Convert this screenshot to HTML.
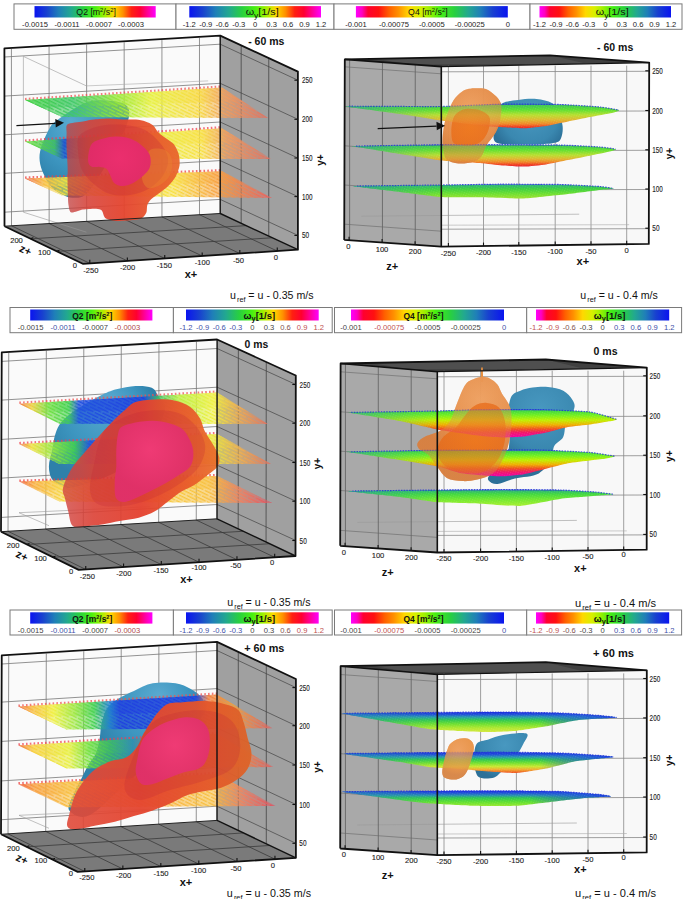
<!DOCTYPE html>
<html><head><meta charset="utf-8"><style>
html,body{margin:0;padding:0;background:#fff;}
svg{display:block;font-family:"Liberation Sans", sans-serif;}
</style></head><body>
<svg width="685" height="899" viewBox="0 0 685 899">
<defs><linearGradient id="gfwd" x1="0" y1="0" x2="1" y2="0"><stop offset="0" stop-color="#0a14f0"/><stop offset="0.1" stop-color="#1840d0"/><stop offset="0.2" stop-color="#1f7fb8"/><stop offset="0.3" stop-color="#22a890"/><stop offset="0.4" stop-color="#28d040"/><stop offset="0.5" stop-color="#48f010"/><stop offset="0.58" stop-color="#a0f000"/><stop offset="0.66" stop-color="#ffd800"/><stop offset="0.73" stop-color="#ff9000"/><stop offset="0.8" stop-color="#ff2010"/><stop offset="0.87" stop-color="#ff0030"/><stop offset="0.94" stop-color="#ff00a0"/><stop offset="1" stop-color="#ff00ff"/></linearGradient>
<linearGradient id="grev" x1="0" y1="0" x2="1" y2="0"><stop offset="0" stop-color="#ff00ff"/><stop offset="0.04" stop-color="#ff00c0"/><stop offset="0.08" stop-color="#ff0030"/><stop offset="0.15" stop-color="#ff1010"/><stop offset="0.22" stop-color="#ff6000"/><stop offset="0.28" stop-color="#ff9000"/><stop offset="0.35" stop-color="#ffd800"/><stop offset="0.42" stop-color="#d8f000"/><stop offset="0.48" stop-color="#a0f000"/><stop offset="0.55" stop-color="#48f010"/><stop offset="0.65" stop-color="#28d040"/><stop offset="0.74" stop-color="#22a890"/><stop offset="0.82" stop-color="#1f7fb8"/><stop offset="0.9" stop-color="#1840d0"/><stop offset="1" stop-color="#0a14f0"/></linearGradient>
<pattern id="hatchL" patternUnits="userSpaceOnUse" width="14" height="6.2" patternTransform="rotate(26)">
<rect width="14" height="6.2" fill="#000"/><rect width="12.5" height="1.3" fill="#fff"/><rect x="7" y="3.1" width="7" height="1.3" fill="#fff"/><rect x="0" y="3.1" width="5.5" height="1.3" fill="#fff"/></pattern>
<mask id="mHL" maskUnits="userSpaceOnUse" x="0" y="0" width="685" height="899"><rect width="685" height="899" fill="url(#hatchL)"/></mask>
<pattern id="dotR" patternUnits="userSpaceOnUse" width="2.4" height="2.4" patternTransform="rotate(20)">
<rect width="2.4" height="2.4" fill="#000"/><rect width="1.1" height="1.1" fill="#fff"/></pattern>
<mask id="mDR" maskUnits="userSpaceOnUse" x="0" y="0" width="685" height="899"><rect width="685" height="899" fill="url(#dotR)"/></mask>

<radialGradient id="rg1" cx="80" cy="140" r="55" fx="70" fy="120" gradientUnits="userSpaceOnUse"><stop offset="0" stop-color="#58aad0"/><stop offset="0.6" stop-color="#3d96c0"/><stop offset="1" stop-color="#2e80aa"/></radialGradient>
<linearGradient id="pg2" x1="25" y1="0" x2="268" y2="0" gradientUnits="userSpaceOnUse"><stop offset="0" stop-color="#40d040"/><stop offset="0.2" stop-color="#40c868"/><stop offset="0.38" stop-color="#98e838"/><stop offset="0.52" stop-color="#e8f040"/><stop offset="0.72" stop-color="#f8d840"/><stop offset="0.82" stop-color="#f0a060"/><stop offset="1" stop-color="#e07060"/></linearGradient>
<linearGradient id="pg3" x1="25" y1="0" x2="270" y2="0" gradientUnits="userSpaceOnUse"><stop offset="0" stop-color="#70e040"/><stop offset="0.12" stop-color="#40c060"/><stop offset="0.16" stop-color="#2050d0"/><stop offset="0.3" stop-color="#40c060"/><stop offset="0.5" stop-color="#e8f040"/><stop offset="0.72" stop-color="#f8e040"/><stop offset="0.82" stop-color="#f0a060"/><stop offset="1" stop-color="#e07060"/></linearGradient>
<linearGradient id="pg4" x1="25" y1="0" x2="272" y2="0" gradientUnits="userSpaceOnUse"><stop offset="0" stop-color="#f07050"/><stop offset="0.08" stop-color="#f8c040"/><stop offset="0.2" stop-color="#f0f040"/><stop offset="0.6" stop-color="#f8e040"/><stop offset="0.78" stop-color="#f8a040"/><stop offset="1" stop-color="#e86060"/></linearGradient>
<linearGradient id="pg5" x1="66" y1="0" x2="180" y2="0" gradientUnits="userSpaceOnUse"><stop offset="0" stop-color="#c04040" stop-opacity="0.75"/><stop offset="0.2" stop-color="#d84036" stop-opacity="0.88"/><stop offset="0.5" stop-color="#e4442e" stop-opacity="0.95"/><stop offset="0.8" stop-color="#e85a2c" stop-opacity="0.95"/><stop offset="1" stop-color="#e8682c" stop-opacity="0.95"/></linearGradient>
<radialGradient id="rg6" cx="120" cy="158" r="35" fx="120" fy="158" gradientUnits="userSpaceOnUse"><stop offset="0" stop-color="#ec2e70"/><stop offset="1" stop-color="#e02a68"/></radialGradient>
<radialGradient id="rg7" cx="100" cy="420" r="60" fx="110" fy="400" gradientUnits="userSpaceOnUse"><stop offset="0" stop-color="#5aaad0"/><stop offset="0.6" stop-color="#3d96c0"/><stop offset="1" stop-color="#2e80aa"/></radialGradient>
<linearGradient id="pg8" x1="19" y1="0" x2="268" y2="0" gradientUnits="userSpaceOnUse"><stop offset="0" stop-color="#f07040"/><stop offset="0.05" stop-color="#f0d040"/><stop offset="0.12" stop-color="#70e040"/><stop offset="0.2" stop-color="#40d050"/><stop offset="0.24" stop-color="#2050e0"/><stop offset="0.5" stop-color="#2040e0"/><stop offset="0.56" stop-color="#40c060"/><stop offset="0.64" stop-color="#b8f040"/><stop offset="0.78" stop-color="#f0f040"/><stop offset="0.88" stop-color="#f0b050"/><stop offset="1" stop-color="#e07060"/></linearGradient>
<linearGradient id="pg9" x1="19" y1="0" x2="271" y2="0" gradientUnits="userSpaceOnUse"><stop offset="0" stop-color="#f07040"/><stop offset="0.05" stop-color="#f0e040"/><stop offset="0.14" stop-color="#90e840"/><stop offset="0.22" stop-color="#40d050"/><stop offset="0.28" stop-color="#2050e0"/><stop offset="0.4" stop-color="#2060d0"/><stop offset="0.55" stop-color="#b0f040"/><stop offset="0.75" stop-color="#e8f040"/><stop offset="0.88" stop-color="#f0b050"/><stop offset="1" stop-color="#e07060"/></linearGradient>
<linearGradient id="pg10" x1="19" y1="0" x2="272" y2="0" gradientUnits="userSpaceOnUse"><stop offset="0" stop-color="#f06040"/><stop offset="0.06" stop-color="#f8b040"/><stop offset="0.2" stop-color="#f8e040"/><stop offset="0.5" stop-color="#f8d040"/><stop offset="0.75" stop-color="#f8c040"/><stop offset="0.88" stop-color="#f08060"/><stop offset="1" stop-color="#e05060"/></linearGradient>
<linearGradient id="pg11" x1="62" y1="0" x2="220" y2="0" gradientUnits="userSpaceOnUse"><stop offset="0" stop-color="#d04440" stop-opacity="0.8"/><stop offset="0.2" stop-color="#dc4034" stop-opacity="0.9"/><stop offset="0.5" stop-color="#e4402e" stop-opacity="0.95"/><stop offset="0.8" stop-color="#e85a2a" stop-opacity="0.95"/><stop offset="1" stop-color="#e8702a" stop-opacity="0.95"/></linearGradient>
<radialGradient id="rg12" cx="150" cy="450" r="40" fx="150" fy="450" gradientUnits="userSpaceOnUse"><stop offset="0" stop-color="#f03a78"/><stop offset="1" stop-color="#e0306a"/></radialGradient>
<radialGradient id="rg13" cx="150" cy="710" r="60" fx="160" fy="695" gradientUnits="userSpaceOnUse"><stop offset="0" stop-color="#5aaad0"/><stop offset="0.6" stop-color="#3d96c0"/><stop offset="1" stop-color="#2e80aa"/></radialGradient>
<linearGradient id="pg14" x1="18" y1="0" x2="272" y2="0" gradientUnits="userSpaceOnUse"><stop offset="0" stop-color="#f07040"/><stop offset="0.06" stop-color="#f8c040"/><stop offset="0.14" stop-color="#f0f040"/><stop offset="0.22" stop-color="#a0e840"/><stop offset="0.3" stop-color="#40d050"/><stop offset="0.36" stop-color="#2080d0"/><stop offset="0.4" stop-color="#2040e0"/><stop offset="0.7" stop-color="#2040e0"/><stop offset="0.75" stop-color="#f08040"/><stop offset="0.85" stop-color="#f0a040"/><stop offset="1" stop-color="#e06060"/></linearGradient>
<linearGradient id="pg15" x1="18" y1="0" x2="273" y2="0" gradientUnits="userSpaceOnUse"><stop offset="0" stop-color="#f07040"/><stop offset="0.06" stop-color="#f8d040"/><stop offset="0.2" stop-color="#e8f040"/><stop offset="0.28" stop-color="#70e040"/><stop offset="0.36" stop-color="#40c060"/><stop offset="0.45" stop-color="#3090b0"/><stop offset="0.6" stop-color="#f08040"/><stop offset="0.8" stop-color="#f0a040"/><stop offset="1" stop-color="#e06060"/></linearGradient>
<linearGradient id="pg16" x1="19" y1="0" x2="275" y2="0" gradientUnits="userSpaceOnUse"><stop offset="0" stop-color="#f06040"/><stop offset="0.06" stop-color="#f8a040"/><stop offset="0.2" stop-color="#f8c040"/><stop offset="0.5" stop-color="#f8b040"/><stop offset="0.75" stop-color="#f8c040"/><stop offset="0.88" stop-color="#f08060"/><stop offset="1" stop-color="#e05060"/></linearGradient>
<linearGradient id="pg17" x1="67" y1="0" x2="252" y2="0" gradientUnits="userSpaceOnUse"><stop offset="0" stop-color="#e04a3a" stop-opacity="0.9"/><stop offset="0.4" stop-color="#e4442e" stop-opacity="0.95"/><stop offset="0.75" stop-color="#e4562a" stop-opacity="0.95"/><stop offset="1" stop-color="#dc6428" stop-opacity="0.95"/></linearGradient>
<radialGradient id="rg18" cx="175" cy="745" r="40" fx="175" fy="745" gradientUnits="userSpaceOnUse"><stop offset="0" stop-color="#f03a78"/><stop offset="1" stop-color="#e0306a"/></radialGradient>
<radialGradient id="rg19" cx="530" cy="115" r="40" fx="530" fy="115" gradientUnits="userSpaceOnUse"><stop offset="0" stop-color="#4898c0"/><stop offset="0.7" stop-color="#3a88b0"/><stop offset="1" stop-color="#2c7098"/></radialGradient>
<radialGradient id="rg20" cx="470" cy="110" r="45" fx="470" fy="110" gradientUnits="userSpaceOnUse"><stop offset="0" stop-color="#eea060"/><stop offset="0.7" stop-color="#e48c48"/><stop offset="1" stop-color="#d88040"/></radialGradient>
<radialGradient id="rg21" cx="470" cy="128" r="25" fx="470" fy="128" gradientUnits="userSpaceOnUse"><stop offset="0" stop-color="#f07010"/><stop offset="1" stop-color="#e86a18"/></radialGradient>
<linearGradient id="pg22" x1="0" y1="104" x2="0" y2="129" gradientUnits="userSpaceOnUse"><stop offset="0" stop-color="#3050d0"/><stop offset="0.06" stop-color="#40c850"/><stop offset="0.24" stop-color="#60e030"/><stop offset="0.44" stop-color="#b8e030"/><stop offset="0.64" stop-color="#e0b830"/><stop offset="0.8" stop-color="#f08828"/><stop offset="0.92" stop-color="#f03820"/><stop offset="1" stop-color="#e02030"/></linearGradient>
<linearGradient id="pg23" x1="349" y1="0" x2="441" y2="0" gradientUnits="userSpaceOnUse"><stop offset="0" stop-color="#2890b0" stop-opacity="0.55"/><stop offset="1" stop-color="#30b080" stop-opacity="0"/></linearGradient>
<linearGradient id="pg24" x1="0" y1="144.5" x2="0" y2="167" gradientUnits="userSpaceOnUse"><stop offset="0" stop-color="#3050d0"/><stop offset="0.07" stop-color="#40c850"/><stop offset="0.24" stop-color="#60e030"/><stop offset="0.47" stop-color="#b8e030"/><stop offset="0.64" stop-color="#e0b830"/><stop offset="0.78" stop-color="#f08828"/><stop offset="0.91" stop-color="#f03820"/><stop offset="1" stop-color="#e02040"/></linearGradient>
<linearGradient id="pg25" x1="356" y1="0" x2="441" y2="0" gradientUnits="userSpaceOnUse"><stop offset="0" stop-color="#2890b0" stop-opacity="0.55"/><stop offset="1" stop-color="#30b080" stop-opacity="0"/></linearGradient>
<linearGradient id="pg26" x1="0" y1="184" x2="0" y2="198.5" gradientUnits="userSpaceOnUse"><stop offset="0" stop-color="#3050d0"/><stop offset="0.1" stop-color="#30b870"/><stop offset="0.34" stop-color="#40d040"/><stop offset="0.69" stop-color="#70e030"/><stop offset="1" stop-color="#a0e030"/></linearGradient>
<linearGradient id="pg27" x1="357" y1="0" x2="441" y2="0" gradientUnits="userSpaceOnUse"><stop offset="0" stop-color="#2890b0" stop-opacity="0.55"/><stop offset="1" stop-color="#30b080" stop-opacity="0"/></linearGradient>
<radialGradient id="rg28" cx="540" cy="410" r="55" fx="540" fy="410" gradientUnits="userSpaceOnUse"><stop offset="0" stop-color="#4898c0"/><stop offset="0.7" stop-color="#3a88b0"/><stop offset="1" stop-color="#2c7098"/></radialGradient>
<radialGradient id="rg29" cx="480" cy="400" r="60" fx="480" fy="400" gradientUnits="userSpaceOnUse"><stop offset="0" stop-color="#eea060"/><stop offset="0.7" stop-color="#e48c48"/><stop offset="1" stop-color="#d88040"/></radialGradient>
<radialGradient id="rg30" cx="475" cy="440" r="35" fx="475" fy="440" gradientUnits="userSpaceOnUse"><stop offset="0" stop-color="#f07010"/><stop offset="1" stop-color="#e86a18"/></radialGradient>
<linearGradient id="pg31" x1="0" y1="409.5" x2="0" y2="437.5" gradientUnits="userSpaceOnUse"><stop offset="0" stop-color="#3050d0"/><stop offset="0.05" stop-color="#40d840"/><stop offset="0.2" stop-color="#70f020"/><stop offset="0.38" stop-color="#c0f000"/><stop offset="0.55" stop-color="#f0b000"/><stop offset="0.7" stop-color="#f05020"/><stop offset="0.82" stop-color="#f01868"/><stop offset="1" stop-color="#f000a8"/></linearGradient>
<linearGradient id="pg32" x1="351" y1="0" x2="438" y2="0" gradientUnits="userSpaceOnUse"><stop offset="0" stop-color="#2890b0" stop-opacity="0.55"/><stop offset="1" stop-color="#30b080" stop-opacity="0"/></linearGradient>
<linearGradient id="pg33" x1="0" y1="450" x2="0" y2="476.5" gradientUnits="userSpaceOnUse"><stop offset="0" stop-color="#3050d0"/><stop offset="0.06" stop-color="#40d840"/><stop offset="0.21" stop-color="#70f020"/><stop offset="0.38" stop-color="#c0f000"/><stop offset="0.55" stop-color="#f0b000"/><stop offset="0.7" stop-color="#f05020"/><stop offset="0.83" stop-color="#f01868"/><stop offset="1" stop-color="#f000a8"/></linearGradient>
<linearGradient id="pg34" x1="351" y1="0" x2="438" y2="0" gradientUnits="userSpaceOnUse"><stop offset="0" stop-color="#2890b0" stop-opacity="0.55"/><stop offset="1" stop-color="#30b080" stop-opacity="0"/></linearGradient>
<linearGradient id="pg35" x1="0" y1="489.5" x2="0" y2="506" gradientUnits="userSpaceOnUse"><stop offset="0" stop-color="#3050d0"/><stop offset="0.09" stop-color="#30b870"/><stop offset="0.27" stop-color="#40d840"/><stop offset="0.58" stop-color="#70e830"/><stop offset="1" stop-color="#a8f030"/></linearGradient>
<linearGradient id="pg36" x1="352" y1="0" x2="438" y2="0" gradientUnits="userSpaceOnUse"><stop offset="0" stop-color="#2890b0" stop-opacity="0.55"/><stop offset="1" stop-color="#30b080" stop-opacity="0"/></linearGradient>
<radialGradient id="rg37" cx="505" cy="745" r="35" fx="505" fy="745" gradientUnits="userSpaceOnUse"><stop offset="0" stop-color="#4898c0"/><stop offset="0.7" stop-color="#3a88b0"/><stop offset="1" stop-color="#2c7098"/></radialGradient>
<radialGradient id="rg38" cx="458" cy="750" r="25" fx="458" fy="750" gradientUnits="userSpaceOnUse"><stop offset="0" stop-color="#eea060"/><stop offset="0.7" stop-color="#e89448"/><stop offset="1" stop-color="#d8884a"/></radialGradient>
<linearGradient id="pg39" x1="0" y1="712" x2="0" y2="732.5" gradientUnits="userSpaceOnUse"><stop offset="0" stop-color="#1828e0"/><stop offset="0.12" stop-color="#2050d8"/><stop offset="0.24" stop-color="#2898b0"/><stop offset="0.39" stop-color="#30c850"/><stop offset="0.59" stop-color="#70e030"/><stop offset="0.78" stop-color="#b0e830"/><stop offset="1" stop-color="#d8e840"/></linearGradient>
<linearGradient id="pg40" x1="346" y1="0" x2="437" y2="0" gradientUnits="userSpaceOnUse"><stop offset="0" stop-color="#2890b0" stop-opacity="0.55"/><stop offset="1" stop-color="#30b080" stop-opacity="0"/></linearGradient>
<linearGradient id="pg41" x1="540" y1="0" x2="617" y2="0" gradientUnits="userSpaceOnUse"><stop offset="0" stop-color="#2040e0" stop-opacity="0"/><stop offset="0.5" stop-color="#2050e0" stop-opacity="0.55"/><stop offset="1" stop-color="#1830e8" stop-opacity="0.9"/></linearGradient>
<linearGradient id="pg42" x1="0" y1="752" x2="0" y2="773" gradientUnits="userSpaceOnUse"><stop offset="0" stop-color="#1828e0"/><stop offset="0.12" stop-color="#2050d8"/><stop offset="0.24" stop-color="#2898b0"/><stop offset="0.36" stop-color="#30c850"/><stop offset="0.52" stop-color="#70e030"/><stop offset="0.69" stop-color="#c8e830"/><stop offset="0.83" stop-color="#f0b030"/><stop offset="1" stop-color="#f05020"/></linearGradient>
<linearGradient id="pg43" x1="346" y1="0" x2="437" y2="0" gradientUnits="userSpaceOnUse"><stop offset="0" stop-color="#2890b0" stop-opacity="0.55"/><stop offset="1" stop-color="#30b080" stop-opacity="0"/></linearGradient>
<linearGradient id="pg44" x1="540" y1="0" x2="614" y2="0" gradientUnits="userSpaceOnUse"><stop offset="0" stop-color="#2040e0" stop-opacity="0"/><stop offset="0.5" stop-color="#2050e0" stop-opacity="0.55"/><stop offset="1" stop-color="#1830e8" stop-opacity="0.9"/></linearGradient>
<linearGradient id="pg45" x1="0" y1="790.5" x2="0" y2="806" gradientUnits="userSpaceOnUse"><stop offset="0" stop-color="#1828e0"/><stop offset="0.16" stop-color="#2050d8"/><stop offset="0.32" stop-color="#2890b0"/><stop offset="0.48" stop-color="#30c850"/><stop offset="0.74" stop-color="#60e030"/><stop offset="1" stop-color="#98e830"/></linearGradient>
<linearGradient id="pg46" x1="346" y1="0" x2="437" y2="0" gradientUnits="userSpaceOnUse"><stop offset="0" stop-color="#2890b0" stop-opacity="0.55"/><stop offset="1" stop-color="#30b080" stop-opacity="0"/></linearGradient>
<linearGradient id="pg47" x1="530" y1="0" x2="611" y2="0" gradientUnits="userSpaceOnUse"><stop offset="0" stop-color="#2040e0" stop-opacity="0"/><stop offset="0.5" stop-color="#2050e0" stop-opacity="0.55"/><stop offset="1" stop-color="#1830e8" stop-opacity="0.9"/></linearGradient></defs>
<rect width="685" height="899" fill="#fff"/>
<rect x="14" y="3.9" width="162" height="25.4" fill="#fff" stroke="#7a7a7a" stroke-width="1"/>
<rect x="176" y="3.9" width="158" height="25.4" fill="#fff" stroke="#7a7a7a" stroke-width="1"/>
<rect x="334" y="3.9" width="196" height="25.4" fill="#fff" stroke="#7a7a7a" stroke-width="1"/>
<rect x="530" y="3.9" width="152" height="25.4" fill="#fff" stroke="#7a7a7a" stroke-width="1"/>
<rect x="34.5" y="6.1" width="121.2" height="11.4" fill="url(#gfwd)"/>
<text x="96.1" y="15" font-size="9" text-anchor="middle" font-weight="normal" fill="#111" textLength="39.5" lengthAdjust="spacingAndGlyphs">Q2 [m<tspan font-size="6" dy="-3">2</tspan><tspan dy="3">/s</tspan><tspan font-size="6" dy="-3">2</tspan><tspan dy="3">]</tspan></text>
<text x="35" y="27.2" font-size="7.6" text-anchor="middle" font-weight="normal" fill="#222" >-0.0015</text>
<text x="67" y="27.2" font-size="7.6" text-anchor="middle" font-weight="normal" fill="#222" >-0.0011</text>
<text x="99" y="27.2" font-size="7.6" text-anchor="middle" font-weight="normal" fill="#222" >-0.0007</text>
<text x="131" y="27.2" font-size="7.6" text-anchor="middle" font-weight="normal" fill="#222" >-0.0003</text>
<rect x="189.3" y="6.1" width="131.7" height="11.4" fill="url(#gfwd)"/>
<text x="262.15" y="15" font-size="9" text-anchor="middle" font-weight="normal" fill="#111" textLength="33" lengthAdjust="spacingAndGlyphs">&#969;<tspan font-size="7" dy="2.5">y</tspan><tspan dy="-2.5">[1/s]</tspan></text>
<text x="189.3" y="27.2" font-size="7.6" text-anchor="middle" font-weight="normal" fill="#222" >-1.2</text>
<text x="205.76" y="27.2" font-size="7.6" text-anchor="middle" font-weight="normal" fill="#222" >-0.9</text>
<text x="222.23" y="27.2" font-size="7.6" text-anchor="middle" font-weight="normal" fill="#222" >-0.6</text>
<text x="238.69" y="27.2" font-size="7.6" text-anchor="middle" font-weight="normal" fill="#222" >-0.3</text>
<text x="255.15" y="27.2" font-size="7.6" text-anchor="middle" font-weight="normal" fill="#222" >0</text>
<text x="271.61" y="27.2" font-size="7.6" text-anchor="middle" font-weight="normal" fill="#222" >0.3</text>
<text x="288.07" y="27.2" font-size="7.6" text-anchor="middle" font-weight="normal" fill="#222" >0.6</text>
<text x="304.54" y="27.2" font-size="7.6" text-anchor="middle" font-weight="normal" fill="#222" >0.9</text>
<text x="321" y="27.2" font-size="7.6" text-anchor="middle" font-weight="normal" fill="#222" >1.2</text>
<rect x="355.9" y="6.1" width="151.9" height="11.4" fill="url(#grev)"/>
<text x="427.85" y="15" font-size="9" text-anchor="middle" font-weight="normal" fill="#111" textLength="39.5" lengthAdjust="spacingAndGlyphs">Q4 [m<tspan font-size="6" dy="-3">2</tspan><tspan dy="3">/s</tspan><tspan font-size="6" dy="-3">2</tspan><tspan dy="3">]</tspan></text>
<text x="355.9" y="27.2" font-size="7.6" text-anchor="middle" font-weight="normal" fill="#222" >-0.001</text>
<text x="393.88" y="27.2" font-size="7.6" text-anchor="middle" font-weight="normal" fill="#222" >-0.00075</text>
<text x="431.85" y="27.2" font-size="7.6" text-anchor="middle" font-weight="normal" fill="#222" >-0.0005</text>
<text x="469.82" y="27.2" font-size="7.6" text-anchor="middle" font-weight="normal" fill="#222" >-0.00025</text>
<text x="507.8" y="27.2" font-size="7.6" text-anchor="middle" font-weight="normal" fill="#222" >0</text>
<rect x="539.5" y="6.1" width="131.5" height="11.4" fill="url(#grev)"/>
<text x="612.25" y="15" font-size="9" text-anchor="middle" font-weight="normal" fill="#111" textLength="33" lengthAdjust="spacingAndGlyphs">&#969;<tspan font-size="7" dy="2.5">y</tspan><tspan dy="-2.5">[1/s]</tspan></text>
<text x="539.5" y="27.2" font-size="7.6" text-anchor="middle" font-weight="normal" fill="#222" >-1.2</text>
<text x="555.94" y="27.2" font-size="7.6" text-anchor="middle" font-weight="normal" fill="#222" >-0.9</text>
<text x="572.38" y="27.2" font-size="7.6" text-anchor="middle" font-weight="normal" fill="#222" >-0.6</text>
<text x="588.81" y="27.2" font-size="7.6" text-anchor="middle" font-weight="normal" fill="#222" >-0.3</text>
<text x="605.25" y="27.2" font-size="7.6" text-anchor="middle" font-weight="normal" fill="#222" >0</text>
<text x="621.69" y="27.2" font-size="7.6" text-anchor="middle" font-weight="normal" fill="#222" >0.3</text>
<text x="638.12" y="27.2" font-size="7.6" text-anchor="middle" font-weight="normal" fill="#222" >0.6</text>
<text x="654.56" y="27.2" font-size="7.6" text-anchor="middle" font-weight="normal" fill="#222" >0.9</text>
<text x="671" y="27.2" font-size="7.6" text-anchor="middle" font-weight="normal" fill="#222" >1.2</text>
<rect x="10" y="307.5" width="163.4" height="25.2" fill="#fff" stroke="#7a7a7a" stroke-width="1"/>
<rect x="173.4" y="307.5" width="158.8" height="25.2" fill="#fff" stroke="#7a7a7a" stroke-width="1"/>
<rect x="334.5" y="307.5" width="192.2" height="25.2" fill="#fff" stroke="#7a7a7a" stroke-width="1"/>
<rect x="526.7" y="307.5" width="154.9" height="25.2" fill="#fff" stroke="#7a7a7a" stroke-width="1"/>
<rect x="30.2" y="309.5" width="122.2" height="11" fill="url(#gfwd)"/>
<text x="92.3" y="318.5" font-size="9" text-anchor="middle" font-weight="bold" fill="#111" textLength="40" lengthAdjust="spacingAndGlyphs">Q2 [m<tspan font-size="6" dy="-3">2</tspan><tspan dy="3">/s</tspan><tspan font-size="6" dy="-3">2</tspan><tspan dy="3">]</tspan></text>
<text x="30.6" y="330.2" font-size="7.6" text-anchor="middle" font-weight="normal" fill="#444" >-0.0015</text>
<text x="63" y="330.2" font-size="7.6" text-anchor="middle" font-weight="normal" fill="#4050a8" >-0.0011</text>
<text x="95.2" y="330.2" font-size="7.6" text-anchor="middle" font-weight="normal" fill="#444" >-0.0007</text>
<text x="127.4" y="330.2" font-size="7.6" text-anchor="middle" font-weight="normal" fill="#b04848" >-0.0003</text>
<rect x="186" y="309.5" width="132.7" height="11" fill="url(#gfwd)"/>
<text x="259.35" y="318.5" font-size="9" text-anchor="middle" font-weight="bold" fill="#111" textLength="31.5" lengthAdjust="spacingAndGlyphs">&#969;<tspan font-size="7" dy="2.5">y</tspan><tspan dy="-2.5">[1/s]</tspan></text>
<text x="186" y="330.2" font-size="7.6" text-anchor="middle" font-weight="normal" fill="#4050a8" >-1.2</text>
<text x="202.59" y="330.2" font-size="7.6" text-anchor="middle" font-weight="normal" fill="#4050a8" >-0.9</text>
<text x="219.18" y="330.2" font-size="7.6" text-anchor="middle" font-weight="normal" fill="#4050a8" >-0.6</text>
<text x="235.76" y="330.2" font-size="7.6" text-anchor="middle" font-weight="normal" fill="#4050a8" >-0.3</text>
<text x="252.35" y="330.2" font-size="7.6" text-anchor="middle" font-weight="normal" fill="#444" >0</text>
<text x="268.94" y="330.2" font-size="7.6" text-anchor="middle" font-weight="normal" fill="#444" >0.3</text>
<text x="285.52" y="330.2" font-size="7.6" text-anchor="middle" font-weight="normal" fill="#805050" >0.6</text>
<text x="302.11" y="330.2" font-size="7.6" text-anchor="middle" font-weight="normal" fill="#c05050" >0.9</text>
<text x="318.7" y="330.2" font-size="7.6" text-anchor="middle" font-weight="normal" fill="#c05050" >1.2</text>
<rect x="351" y="309.5" width="153" height="11" fill="url(#grev)"/>
<text x="423.5" y="318.5" font-size="9" text-anchor="middle" font-weight="bold" fill="#111" textLength="40" lengthAdjust="spacingAndGlyphs">Q4 [m<tspan font-size="6" dy="-3">2</tspan><tspan dy="3">/s</tspan><tspan font-size="6" dy="-3">2</tspan><tspan dy="3">]</tspan></text>
<text x="351" y="330.2" font-size="7.6" text-anchor="middle" font-weight="normal" fill="#444" >-0.001</text>
<text x="389.25" y="330.2" font-size="7.6" text-anchor="middle" font-weight="normal" fill="#c05050" >-0.00075</text>
<text x="427.5" y="330.2" font-size="7.6" text-anchor="middle" font-weight="normal" fill="#444" >-0.0005</text>
<text x="465.75" y="330.2" font-size="7.6" text-anchor="middle" font-weight="normal" fill="#444" >-0.00025</text>
<text x="504" y="330.2" font-size="7.6" text-anchor="middle" font-weight="normal" fill="#4050a8" >0</text>
<rect x="536" y="309.5" width="133.2" height="11" fill="url(#grev)"/>
<text x="609.6" y="318.5" font-size="9" text-anchor="middle" font-weight="bold" fill="#111" textLength="31.5" lengthAdjust="spacingAndGlyphs">&#969;<tspan font-size="7" dy="2.5">y</tspan><tspan dy="-2.5">[1/s]</tspan></text>
<text x="536" y="330.2" font-size="7.6" text-anchor="middle" font-weight="normal" fill="#c05050" >-1.2</text>
<text x="552.65" y="330.2" font-size="7.6" text-anchor="middle" font-weight="normal" fill="#c05050" >-0.9</text>
<text x="569.3" y="330.2" font-size="7.6" text-anchor="middle" font-weight="normal" fill="#805050" >-0.6</text>
<text x="585.95" y="330.2" font-size="7.6" text-anchor="middle" font-weight="normal" fill="#444" >-0.3</text>
<text x="602.6" y="330.2" font-size="7.6" text-anchor="middle" font-weight="normal" fill="#444" >0</text>
<text x="619.25" y="330.2" font-size="7.6" text-anchor="middle" font-weight="normal" fill="#4050a8" >0.3</text>
<text x="635.9" y="330.2" font-size="7.6" text-anchor="middle" font-weight="normal" fill="#4050a8" >0.6</text>
<text x="652.55" y="330.2" font-size="7.6" text-anchor="middle" font-weight="normal" fill="#4050a8" >0.9</text>
<text x="669.2" y="330.2" font-size="7.6" text-anchor="middle" font-weight="normal" fill="#4050a8" >1.2</text>
<rect x="10" y="610" width="163.4" height="25" fill="#fff" stroke="#7a7a7a" stroke-width="1"/>
<rect x="173.4" y="610" width="158.8" height="25" fill="#fff" stroke="#7a7a7a" stroke-width="1"/>
<rect x="334.5" y="610" width="192.2" height="25" fill="#fff" stroke="#7a7a7a" stroke-width="1"/>
<rect x="526.7" y="610" width="154.9" height="25" fill="#fff" stroke="#7a7a7a" stroke-width="1"/>
<rect x="30.2" y="612.3" width="122.2" height="11.3" fill="url(#gfwd)"/>
<text x="92.3" y="621.6" font-size="9" text-anchor="middle" font-weight="bold" fill="#111" textLength="40" lengthAdjust="spacingAndGlyphs">Q2 [m<tspan font-size="6" dy="-3">2</tspan><tspan dy="3">/s</tspan><tspan font-size="6" dy="-3">2</tspan><tspan dy="3">]</tspan></text>
<text x="30.6" y="632.8" font-size="7.6" text-anchor="middle" font-weight="normal" fill="#444" >-0.0015</text>
<text x="63" y="632.8" font-size="7.6" text-anchor="middle" font-weight="normal" fill="#4050a8" >-0.0011</text>
<text x="95.2" y="632.8" font-size="7.6" text-anchor="middle" font-weight="normal" fill="#444" >-0.0007</text>
<text x="127.4" y="632.8" font-size="7.6" text-anchor="middle" font-weight="normal" fill="#b04848" >-0.0003</text>
<rect x="186" y="612.3" width="132.7" height="11.3" fill="url(#gfwd)"/>
<text x="259.35" y="621.6" font-size="9" text-anchor="middle" font-weight="bold" fill="#111" textLength="31.5" lengthAdjust="spacingAndGlyphs">&#969;<tspan font-size="7" dy="2.5">y</tspan><tspan dy="-2.5">[1/s]</tspan></text>
<text x="186" y="632.8" font-size="7.6" text-anchor="middle" font-weight="normal" fill="#4050a8" >-1.2</text>
<text x="202.59" y="632.8" font-size="7.6" text-anchor="middle" font-weight="normal" fill="#4050a8" >-0.9</text>
<text x="219.18" y="632.8" font-size="7.6" text-anchor="middle" font-weight="normal" fill="#4050a8" >-0.6</text>
<text x="235.76" y="632.8" font-size="7.6" text-anchor="middle" font-weight="normal" fill="#4050a8" >-0.3</text>
<text x="252.35" y="632.8" font-size="7.6" text-anchor="middle" font-weight="normal" fill="#444" >0</text>
<text x="268.94" y="632.8" font-size="7.6" text-anchor="middle" font-weight="normal" fill="#444" >0.3</text>
<text x="285.52" y="632.8" font-size="7.6" text-anchor="middle" font-weight="normal" fill="#805050" >0.6</text>
<text x="302.11" y="632.8" font-size="7.6" text-anchor="middle" font-weight="normal" fill="#c05050" >0.9</text>
<text x="318.7" y="632.8" font-size="7.6" text-anchor="middle" font-weight="normal" fill="#c05050" >1.2</text>
<rect x="351" y="612.3" width="153" height="11.3" fill="url(#grev)"/>
<text x="423.5" y="621.6" font-size="9" text-anchor="middle" font-weight="bold" fill="#111" textLength="40" lengthAdjust="spacingAndGlyphs">Q4 [m<tspan font-size="6" dy="-3">2</tspan><tspan dy="3">/s</tspan><tspan font-size="6" dy="-3">2</tspan><tspan dy="3">]</tspan></text>
<text x="351" y="632.8" font-size="7.6" text-anchor="middle" font-weight="normal" fill="#444" >-0.001</text>
<text x="389.25" y="632.8" font-size="7.6" text-anchor="middle" font-weight="normal" fill="#c05050" >-0.00075</text>
<text x="427.5" y="632.8" font-size="7.6" text-anchor="middle" font-weight="normal" fill="#444" >-0.0005</text>
<text x="465.75" y="632.8" font-size="7.6" text-anchor="middle" font-weight="normal" fill="#444" >-0.00025</text>
<text x="504" y="632.8" font-size="7.6" text-anchor="middle" font-weight="normal" fill="#4050a8" >0</text>
<rect x="536" y="612.3" width="133.2" height="11.3" fill="url(#grev)"/>
<text x="609.6" y="621.6" font-size="9" text-anchor="middle" font-weight="bold" fill="#111" textLength="31.5" lengthAdjust="spacingAndGlyphs">&#969;<tspan font-size="7" dy="2.5">y</tspan><tspan dy="-2.5">[1/s]</tspan></text>
<text x="536" y="632.8" font-size="7.6" text-anchor="middle" font-weight="normal" fill="#c05050" >-1.2</text>
<text x="552.65" y="632.8" font-size="7.6" text-anchor="middle" font-weight="normal" fill="#c05050" >-0.9</text>
<text x="569.3" y="632.8" font-size="7.6" text-anchor="middle" font-weight="normal" fill="#805050" >-0.6</text>
<text x="585.95" y="632.8" font-size="7.6" text-anchor="middle" font-weight="normal" fill="#444" >-0.3</text>
<text x="602.6" y="632.8" font-size="7.6" text-anchor="middle" font-weight="normal" fill="#444" >0</text>
<text x="619.25" y="632.8" font-size="7.6" text-anchor="middle" font-weight="normal" fill="#4050a8" >0.3</text>
<text x="635.9" y="632.8" font-size="7.6" text-anchor="middle" font-weight="normal" fill="#4050a8" >0.6</text>
<text x="652.55" y="632.8" font-size="7.6" text-anchor="middle" font-weight="normal" fill="#4050a8" >0.9</text>
<text x="669.2" y="632.8" font-size="7.6" text-anchor="middle" font-weight="normal" fill="#4050a8" >1.2</text>
<polygon points="4.4,48.4 220.2,35.6 220.2,213.5 4.5,226.2" fill="#fafafa" />
<polygon points="4.5,226.2 220.2,213.5 297.9,249.7 82.8,263.8" fill="#7a7a7a" />
<polygon points="220.2,35.6 297.9,71.6 297.9,249.7 220.2,213.5" fill="#a0a0a0" />
<line x1="30.73" y1="238.8" x2="246.23" y2="225.63" stroke="#3a3a3a" stroke-width="0.8" />
<line x1="56.96" y1="251.39" x2="272.26" y2="237.75" stroke="#3a3a3a" stroke-width="0.8" />
<line x1="11.51" y1="225.79" x2="89.79" y2="263.34" stroke="#3a3a3a" stroke-width="0.8" />
<line x1="49.15" y1="223.57" x2="127.33" y2="260.88" stroke="#3a3a3a" stroke-width="0.8" />
<line x1="86.68" y1="221.36" x2="164.75" y2="258.43" stroke="#3a3a3a" stroke-width="0.8" />
<line x1="124.21" y1="219.15" x2="202.18" y2="255.97" stroke="#3a3a3a" stroke-width="0.8" />
<line x1="161.96" y1="216.93" x2="239.82" y2="253.51" stroke="#3a3a3a" stroke-width="0.8" />
<line x1="199.49" y1="214.72" x2="277.25" y2="251.05" stroke="#3a3a3a" stroke-width="0.8" />
<line x1="241.18" y1="45.32" x2="241.18" y2="223.27" stroke="#444" stroke-width="0.8" />
<line x1="268.76" y1="58.1" x2="268.76" y2="236.12" stroke="#444" stroke-width="0.8" />
<line x1="220.2" y1="44.2" x2="297.9" y2="80.2" stroke="#444" stroke-width="0.7" />
<line x1="220.2" y1="83.3" x2="297.9" y2="119.3" stroke="#444" stroke-width="0.7" />
<line x1="220.2" y1="122" x2="297.9" y2="158" stroke="#444" stroke-width="0.7" />
<line x1="220.2" y1="160.6" x2="297.9" y2="196.6" stroke="#444" stroke-width="0.7" />
<line x1="220.2" y1="199.4" x2="297.9" y2="235.4" stroke="#444" stroke-width="0.7" />
<line x1="11.41" y1="48.98" x2="11.51" y2="225.79" stroke="#777" stroke-width="0.8" />
<line x1="49.07" y1="46.75" x2="49.15" y2="223.57" stroke="#777" stroke-width="0.8" />
<line x1="86.62" y1="44.52" x2="86.68" y2="221.36" stroke="#777" stroke-width="0.8" />
<line x1="124.17" y1="42.3" x2="124.21" y2="219.15" stroke="#777" stroke-width="0.8" />
<line x1="161.93" y1="40.06" x2="161.96" y2="216.93" stroke="#777" stroke-width="0.8" />
<line x1="199.48" y1="37.83" x2="199.49" y2="214.72" stroke="#777" stroke-width="0.8" />
<line x1="4.4" y1="57" x2="220.2" y2="44.2" stroke="#777" stroke-width="0.8" />
<line x1="4.4" y1="96.1" x2="220.2" y2="83.3" stroke="#777" stroke-width="0.8" />
<line x1="4.4" y1="134.8" x2="220.2" y2="122" stroke="#777" stroke-width="0.8" />
<line x1="4.4" y1="173.4" x2="220.2" y2="160.6" stroke="#777" stroke-width="0.8" />
<line x1="4.4" y1="212.2" x2="220.2" y2="199.4" stroke="#777" stroke-width="0.8" />
<line x1="23.4" y1="56.4" x2="23.4" y2="212.2" stroke="#999" stroke-width="0.6" />
<line x1="23.4" y1="56.4" x2="86.4" y2="85.9" stroke="#999" stroke-width="0.6" />
<line x1="86.4" y1="85.9" x2="208.2" y2="80.9" stroke="#aaa" stroke-width="0.6" />
<line x1="23.4" y1="212.2" x2="86.4" y2="232.2" stroke="#999" stroke-width="0.6" />
<path d="M55.5,121.5 C59.43,118.22 67.03,112.98 72.5,109.7 C77.97,106.42 82.6,103.33 88.3,101.8 C94,100.27 100.57,100.05 106.7,100.5 C112.83,100.95 121.38,101.87 125.1,104.5 C128.82,107.13 129.85,110.38 129,116.3 C128.15,122.22 124.83,130.22 120,140 C115.17,149.78 105.83,165.83 100,175 C94.17,184.17 89.58,191.22 85,195 C80.42,198.78 76.1,197.68 72.5,197.7 C68.9,197.72 66.9,196.85 63.4,195.1 C59.9,193.35 54.8,190.72 51.5,187.2 C48.2,183.68 45.57,178.38 43.6,174 C41.63,169.62 40.13,165.27 39.7,160.9 C39.27,156.53 39.47,153.05 41,147.8 C42.53,142.55 46.48,133.78 48.9,129.4 C51.32,125.02 51.57,124.78 55.5,121.5Z" fill="url(#rg1)" fill-opacity="1" />
<path d="M25,100 L222,87.4 L268,118 L62,117Z" fill="url(#pg2)" fill-opacity="0.58"/>
<path d="M25,100 L222,87.4 L268,118 L62,117Z" fill="url(#pg2)" fill-opacity="1" mask="url(#mHL)"/>
<line x1="25" y1="99" x2="222" y2="86.4" stroke="#f05050" stroke-width="2.2" stroke-dasharray="1.6 2.2" stroke-opacity="0.75"/>
<path d="M25,100 L222,87.4 L242.7,101.17 L41.65,107.65Z" fill="url(#pg2)" fill-opacity="0.45"/>
<path d="M25,141.5 L222,128.2 L271,159 L62,158.5Z" fill="url(#pg3)" fill-opacity="0.58"/>
<path d="M25,141.5 L222,128.2 L271,159 L62,158.5Z" fill="url(#pg3)" fill-opacity="1" mask="url(#mHL)"/>
<line x1="25" y1="140.5" x2="222" y2="127.2" stroke="#f04050" stroke-width="2.2" stroke-dasharray="1.6 2.2" stroke-opacity="0.75"/>
<path d="M25,141.5 L222,128.2 L244.05,142.06 L41.65,149.15Z" fill="url(#pg3)" fill-opacity="0.45"/>
<path d="M25,178.5 L222,171.2 L272,198 L62,195.5Z" fill="url(#pg4)" fill-opacity="0.58"/>
<path d="M25,178.5 L222,171.2 L272,198 L62,195.5Z" fill="url(#pg4)" fill-opacity="1" mask="url(#mHL)"/>
<line x1="25" y1="177.5" x2="222" y2="170.2" stroke="#f04040" stroke-width="2.2" stroke-dasharray="1.6 2.2" stroke-opacity="0.75"/>
<path d="M25,178.5 L222,171.2 L244.5,183.26 L41.65,186.15Z" fill="url(#pg4)" fill-opacity="0.45"/>
<path d="M67.6,124.2 C69.76,122.68 79.25,122.03 82.8,121.4 C86.35,120.77 90.67,119.89 94.2,119.5 C97.73,119.11 105.51,118.5 109.3,118.5 C113.09,118.5 119.05,119.37 122.6,119.5 C126.15,119.63 132.86,119.25 135.9,119.5 C138.94,119.75 143.12,120.64 145.4,121.4 C147.68,122.16 151.23,123.68 153,125.2 C154.77,126.72 156.93,131.03 158.7,132.8 C160.47,134.57 164.27,136.98 166.3,138.5 C168.33,140.02 172.26,142.17 173.9,144.2 C175.54,146.23 177.84,150.93 178.6,153.7 C179.36,156.47 179.97,161.97 179.6,165 C179.23,168.03 177.32,173.61 175.8,176.4 C174.28,179.19 170.48,183.62 168.2,185.9 C165.92,188.18 160.98,191.73 158.7,193.5 C156.42,195.27 152.62,197.68 151.1,199.2 C149.58,200.72 147.93,203.13 147.3,204.9 C146.67,206.67 147.16,210.73 146.4,212.5 C145.64,214.27 143.51,217.19 141.6,218.2 C139.69,219.21 135.39,219.73 132.1,220.1 C128.81,220.47 120.45,221.25 116.9,221 C113.35,220.75 107.51,219.59 105.5,218.2 C103.49,216.81 103.05,211.87 101.8,210.6 C100.55,209.33 98.63,208.83 96.1,208.7 C93.57,208.57 86.09,209.09 82.8,209.6 C79.51,210.11 73.31,213.13 71.4,212.5 C69.49,211.87 69.01,208.45 68.5,204.9 C67.99,201.35 67.72,190.97 67.6,185.9 C67.48,180.83 67.73,171.95 67.6,166.9 C67.47,161.85 66.73,152.55 66.6,148 C66.47,143.45 66.47,135.97 66.6,132.8 C66.73,129.63 65.44,125.72 67.6,124.2Z" fill="url(#pg5)" fill-opacity="1" />
<path d="M80,135 C83.67,131 92.5,127.67 100,126 C107.5,124.33 117.5,124.33 125,125 C132.5,125.67 139.17,127 145,130 C150.83,133 156.17,138.33 160,143 C163.83,147.67 167.33,152.83 168,158 C168.67,163.17 167,169 164,174 C161,179 155.67,184.5 150,188 C144.33,191.5 136.67,194 130,195 C123.33,196 115.83,195.67 110,194 C104.17,192.33 99.67,189 95,185 C90.33,181 84.83,175.83 82,170 C79.17,164.17 78.33,155.83 78,150 C77.67,144.17 76.33,139 80,135Z" fill="#c02838" fill-opacity="0.28" />
<path d="M150,150 C153.17,147.83 161.33,148.33 165,150 C168.67,151.67 171.17,155.83 172,160 C172.83,164.17 172,170.83 170,175 C168,179.17 163.67,182.83 160,185 C156.33,187.17 151,189.17 148,188 C145,186.83 142.33,182.17 142,178 C141.67,173.83 144.67,167.67 146,163 C147.33,158.33 146.83,152.17 150,150Z" fill="#e88030" fill-opacity="0.5" />
<path d="M92.3,143.2 C94.83,140.67 99.92,139.6 103.7,138.5 C107.48,137.4 111.22,136.77 115,136.6 C118.78,136.43 122.92,136.72 126.4,137.5 C129.88,138.28 133.05,139.72 135.9,141.3 C138.75,142.88 141.28,144.93 143.5,147 C145.72,149.07 148,151.33 149.2,153.7 C150.4,156.07 150.7,158.68 150.7,161.2 C150.7,163.72 150.4,166.42 149.2,168.8 C148,171.18 145.72,173.43 143.5,175.5 C141.28,177.57 138.43,179.62 135.9,181.2 C133.37,182.78 130.83,184.22 128.3,185 C125.77,185.78 123.07,186.22 120.7,185.9 C118.33,185.58 115.83,184.83 114.1,183.1 C112.37,181.37 111.57,177.88 110.3,175.5 C109.03,173.12 108.23,170.23 106.5,168.8 C104.77,167.37 102.27,167.22 99.9,166.9 C97.53,166.58 94.2,167.53 92.3,166.9 C90.4,166.27 89.13,165.3 88.5,163.1 C87.87,160.9 87.87,157.02 88.5,153.7 C89.13,150.38 89.77,145.73 92.3,143.2Z" fill="url(#rg6)" fill-opacity="0.96" />
<line x1="16.4" y1="125.6" x2="55.51" y2="123.3" stroke="#111" stroke-width="1.3" />
<polygon points="64,122.8 55.77,127.59 55.26,119.01" fill="#111" />
<polyline points="4.5,226.2 4.4,48.4 220.2,35.6 297.9,71.6 297.9,249.7 82.8,263.8 4.5,226.2" fill="none" stroke="#111" stroke-width="1.8" stroke-linejoin="round"/>
<polyline points="220.2,35.6 220.2,213.5 297.9,249.7" fill="none" stroke="#111" stroke-width="1.4"/>
<polyline points="4.5,226.2 220.2,213.5" fill="none" stroke="#222" stroke-width="1.0"/>
<line x1="89.79" y1="263.34" x2="89.79" y2="259.84" stroke="#111" stroke-width="1.1" />
<line x1="127.33" y1="260.88" x2="127.33" y2="257.38" stroke="#111" stroke-width="1.1" />
<line x1="164.75" y1="258.43" x2="164.75" y2="254.93" stroke="#111" stroke-width="1.1" />
<line x1="202.18" y1="255.97" x2="202.18" y2="252.47" stroke="#111" stroke-width="1.1" />
<line x1="239.82" y1="253.51" x2="239.82" y2="250.01" stroke="#111" stroke-width="1.1" />
<line x1="277.25" y1="251.05" x2="277.25" y2="247.55" stroke="#111" stroke-width="1.1" />
<line x1="56.57" y1="251.2" x2="59.57" y2="250.2" stroke="#111" stroke-width="1" />
<line x1="30.34" y1="238.61" x2="33.34" y2="237.61" stroke="#111" stroke-width="1" />
<line x1="294.4" y1="80.2" x2="297.9" y2="80.2" stroke="#111" stroke-width="1.1" />
<line x1="294.4" y1="119.3" x2="297.9" y2="119.3" stroke="#111" stroke-width="1.1" />
<line x1="294.4" y1="158" x2="297.9" y2="158" stroke="#111" stroke-width="1.1" />
<line x1="294.4" y1="196.6" x2="297.9" y2="196.6" stroke="#111" stroke-width="1.1" />
<line x1="294.4" y1="235.4" x2="297.9" y2="235.4" stroke="#111" stroke-width="1.1" />
<text x="248.2" y="44.8" font-size="10.5" text-anchor="start" font-weight="bold" fill="#111" textLength="36.2" lengthAdjust="spacingAndGlyphs" >- 60 ms</text>
<text x="302" y="83.2" font-size="8.4" text-anchor="start" font-weight="normal" fill="#222" textLength="10.6" lengthAdjust="spacingAndGlyphs" stroke="#222" stroke-width="0.12">250</text>
<text x="302" y="122.3" font-size="8.4" text-anchor="start" font-weight="normal" fill="#222" textLength="10.6" lengthAdjust="spacingAndGlyphs" stroke="#222" stroke-width="0.12">200</text>
<text x="302" y="161" font-size="8.4" text-anchor="start" font-weight="normal" fill="#222" textLength="10.6" lengthAdjust="spacingAndGlyphs" stroke="#222" stroke-width="0.12">150</text>
<text x="302" y="199.6" font-size="8.4" text-anchor="start" font-weight="normal" fill="#222" textLength="10.6" lengthAdjust="spacingAndGlyphs" stroke="#222" stroke-width="0.12">100</text>
<text x="302" y="238.4" font-size="8.4" text-anchor="start" font-weight="normal" fill="#222" textLength="7.2" lengthAdjust="spacingAndGlyphs" stroke="#222" stroke-width="0.12">50</text>
<text x="0" y="0" font-size="10" font-weight="bold" fill="#111" text-anchor="middle" transform="translate(324,160) rotate(-90)">y+</text>
<text x="90.8" y="272.5" font-size="7.6" text-anchor="middle" font-weight="normal" fill="#222" stroke="#222" stroke-width="0.12">-250</text>
<text x="127.7" y="269.6" font-size="7.6" text-anchor="middle" font-weight="normal" fill="#222" stroke="#222" stroke-width="0.12">-200</text>
<text x="164.4" y="267.6" font-size="7.6" text-anchor="middle" font-weight="normal" fill="#222" stroke="#222" stroke-width="0.12">-150</text>
<text x="202.3" y="265.2" font-size="7.6" text-anchor="middle" font-weight="normal" fill="#222" stroke="#222" stroke-width="0.12">-100</text>
<text x="238.6" y="263.1" font-size="7.6" text-anchor="middle" font-weight="normal" fill="#222" stroke="#222" stroke-width="0.12">-50</text>
<text x="275.8" y="260" font-size="7.6" text-anchor="middle" font-weight="normal" fill="#222" stroke="#222" stroke-width="0.12">0</text>
<text x="191" y="278.3" font-size="11" text-anchor="middle" font-weight="bold" fill="#111" >x+</text>
<text x="229.9" y="299.1" font-size="11" fill="#111" textLength="83.7" lengthAdjust="spacingAndGlyphs">u<tspan font-size="7.5" dx="1.2" dy="3">ref</tspan><tspan dy="-3"> = u - 0.35 m/s</tspan></text>
<text x="16.5" y="242.5" font-size="7.6" text-anchor="middle" font-weight="normal" fill="#222" stroke="#222" stroke-width="0.12">200</text>
<text x="44.4" y="255.3" font-size="7.6" text-anchor="middle" font-weight="normal" fill="#222" stroke="#222" stroke-width="0.12">100</text>
<text x="74.8" y="268" font-size="7.6" text-anchor="middle" font-weight="normal" fill="#222" stroke="#222" stroke-width="0.12">0</text>
<text x="0" y="0" font-size="11" font-weight="bold" fill="#111" text-anchor="middle" transform="translate(24,253.5) rotate(25)">z+</text>
<polygon points="1.75,352.4 217.1,339.5 217,518.8 1,531.7" fill="#fafafa" />
<polygon points="1,531.7 217,518.8 295.5,556 78.7,569.9" fill="#7a7a7a" />
<polygon points="217.1,339.5 295.8,375.5 295.5,556 217,518.8" fill="#a0a0a0" />
<line x1="27.03" y1="544.5" x2="243.3" y2="531.26" stroke="#3a3a3a" stroke-width="0.8" />
<line x1="53.06" y1="557.29" x2="269.6" y2="543.72" stroke="#3a3a3a" stroke-width="0.8" />
<line x1="8.02" y1="531.28" x2="85.75" y2="569.45" stroke="#3a3a3a" stroke-width="0.8" />
<line x1="45.71" y1="529.03" x2="123.58" y2="567.02" stroke="#3a3a3a" stroke-width="0.8" />
<line x1="83.3" y1="526.79" x2="161.3" y2="564.6" stroke="#3a3a3a" stroke-width="0.8" />
<line x1="120.88" y1="524.54" x2="199.02" y2="562.19" stroke="#3a3a3a" stroke-width="0.8" />
<line x1="158.68" y1="522.28" x2="236.96" y2="559.75" stroke="#3a3a3a" stroke-width="0.8" />
<line x1="196.26" y1="520.04" x2="274.69" y2="557.33" stroke="#3a3a3a" stroke-width="0.8" />
<line x1="238.35" y1="349.22" x2="238.19" y2="528.84" stroke="#444" stroke-width="0.8" />
<line x1="266.29" y1="362" x2="266.06" y2="542.05" stroke="#444" stroke-width="0.8" />
<line x1="217.1" y1="348.5" x2="295.8" y2="384.5" stroke="#444" stroke-width="0.7" />
<line x1="217.1" y1="387.2" x2="295.8" y2="423.2" stroke="#444" stroke-width="0.7" />
<line x1="217.1" y1="426.5" x2="295.8" y2="462.5" stroke="#444" stroke-width="0.7" />
<line x1="217.1" y1="465.2" x2="295.8" y2="501.2" stroke="#444" stroke-width="0.7" />
<line x1="217.1" y1="504.5" x2="295.8" y2="540.5" stroke="#444" stroke-width="0.7" />
<line x1="8.75" y1="352.98" x2="8.02" y2="531.28" stroke="#777" stroke-width="0.8" />
<line x1="46.33" y1="350.73" x2="45.71" y2="529.03" stroke="#777" stroke-width="0.8" />
<line x1="83.8" y1="348.49" x2="83.3" y2="526.79" stroke="#777" stroke-width="0.8" />
<line x1="121.27" y1="346.24" x2="120.88" y2="524.54" stroke="#777" stroke-width="0.8" />
<line x1="158.96" y1="343.98" x2="158.68" y2="522.28" stroke="#777" stroke-width="0.8" />
<line x1="196.43" y1="341.74" x2="196.26" y2="520.04" stroke="#777" stroke-width="0.8" />
<line x1="1.75" y1="361.4" x2="217.1" y2="348.5" stroke="#777" stroke-width="0.8" />
<line x1="1.75" y1="400.1" x2="217.1" y2="387.2" stroke="#777" stroke-width="0.8" />
<line x1="1.75" y1="439.4" x2="217.1" y2="426.5" stroke="#777" stroke-width="0.8" />
<line x1="1.75" y1="478.1" x2="217.1" y2="465.2" stroke="#777" stroke-width="0.8" />
<line x1="1.75" y1="517.4" x2="217.1" y2="504.5" stroke="#777" stroke-width="0.8" />
<line x1="19" y1="512.7" x2="150" y2="506.7" stroke="#999" stroke-width="0.6" />
<line x1="19" y1="512.7" x2="49" y2="525.7" stroke="#999" stroke-width="0.6" />
<path d="M100.3,395.7 C106.72,392.5 110.42,390.92 116.3,389.3 C122.18,387.68 129.7,386.27 135.6,386 C141.5,385.73 147.95,386.08 151.7,387.7 C155.45,389.32 155.88,391.98 158.1,395.7 C160.32,399.42 166.35,402.62 165,410 C163.65,417.38 157.5,430 150,440 C142.5,450 132.5,462.17 120,470 C107.5,477.83 84.7,484.4 75,487 C65.3,489.6 65.62,486.9 61.8,485.6 C57.98,484.3 54.25,482.4 52.1,479.2 C49.95,476 48.9,471.22 48.9,466.4 C48.9,461.58 51.03,455.67 52.1,450.3 C53.17,444.93 53.68,439.02 55.3,434.2 C56.92,429.38 58.05,425.68 61.8,421.4 C65.55,417.12 71.38,412.78 77.8,408.5 C84.22,404.22 93.88,398.9 100.3,395.7Z" fill="url(#rg7)" fill-opacity="1" />
<path d="M19.3,403.7 L217,392.5 L268,424 L59.3,423.7Z" fill="url(#pg8)" fill-opacity="0.58"/>
<path d="M19.3,403.7 L217,392.5 L268,424 L59.3,423.7Z" fill="url(#pg8)" fill-opacity="1" mask="url(#mHL)"/>
<line x1="19.3" y1="402.7" x2="217" y2="391.5" stroke="#f05050" stroke-width="2.2" stroke-dasharray="1.6 2.2" stroke-opacity="0.75"/>
<path d="M19.3,403.7 L217,392.5 L239.95,406.68 L37.3,412.7Z" fill="url(#pg8)" fill-opacity="0.45"/>
<path d="M19.3,444 L217,434 L271,464 L59.3,464Z" fill="url(#pg9)" fill-opacity="0.58"/>
<path d="M19.3,444 L217,434 L271,464 L59.3,464Z" fill="url(#pg9)" fill-opacity="1" mask="url(#mHL)"/>
<line x1="19.3" y1="443" x2="217" y2="433" stroke="#f04050" stroke-width="2.2" stroke-dasharray="1.6 2.2" stroke-opacity="0.75"/>
<path d="M19.3,444 L217,434 L241.3,447.5 L37.3,453Z" fill="url(#pg9)" fill-opacity="0.45"/>
<path d="M19.3,481.6 L217,476 L272,503 L59.3,501.6Z" fill="url(#pg10)" fill-opacity="0.58"/>
<path d="M19.3,481.6 L217,476 L272,503 L59.3,501.6Z" fill="url(#pg10)" fill-opacity="1" mask="url(#mHL)"/>
<line x1="19.3" y1="480.6" x2="217" y2="475" stroke="#f04040" stroke-width="2.2" stroke-dasharray="1.6 2.2" stroke-opacity="0.75"/>
<path d="M19.3,481.6 L217,476 L241.75,488.15 L37.3,490.6Z" fill="url(#pg10)" fill-opacity="0.45"/>
<path d="M115,419 C119.17,414.83 121.57,412.82 125,410 C128.43,407.18 130.62,403.85 135.6,402.1 C140.58,400.35 148.47,399.77 154.9,399.5 C161.33,399.23 168.32,399.27 174.2,400.5 C180.08,401.73 185.92,403.95 190.2,406.9 C194.48,409.85 197.48,414.18 199.9,418.2 C202.32,422.22 202.57,426.72 204.7,431 C206.83,435.28 210.3,439.62 212.7,443.9 C215.1,448.18 218.3,452.95 219.1,456.7 C219.9,460.45 219.63,463.18 217.5,466.4 C215.37,469.62 210.32,472.8 206.3,476 C202.28,479.2 197.68,482.93 193.4,485.6 C189.12,488.27 184.88,489.32 180.6,492 C176.32,494.68 171.98,498.48 167.7,501.7 C163.42,504.92 159.72,508.63 154.9,511.3 C150.08,513.97 144.68,516.08 138.8,517.7 C132.92,519.32 125.48,519.92 119.6,521 C113.72,522.08 108.32,523.4 103.5,524.2 C98.68,525 94.98,525.27 90.7,525.8 C86.42,526.33 81.02,527.67 77.8,527.4 C74.58,527.13 73,526.88 71.4,524.2 C69.8,521.52 69.27,515.58 68.2,511.3 C67.13,507.02 65.87,502.38 65,498.5 C64.13,494.62 61.83,493.08 63,488 C64.17,482.92 68.33,474 72,468 C75.67,462 80.33,457.5 85,452 C89.67,446.5 95,440.5 100,435 C105,429.5 110.83,423.17 115,419Z" fill="url(#pg11)" fill-opacity="1" />
<path d="M110,425 C116.67,420.33 129.17,414.17 140,412 C150.83,409.83 165.83,409.83 175,412 C184.17,414.17 190,419.5 195,425 C200,430.5 204.17,438.33 205,445 C205.83,451.67 203.33,459.17 200,465 C196.67,470.83 191.67,475 185,480 C178.33,485 169.17,490.83 160,495 C150.83,499.17 140,503.33 130,505 C120,506.67 106.67,507.5 100,505 C93.33,502.5 90.83,497.5 90,490 C89.17,482.5 93.33,468.33 95,460 C96.67,451.67 97.5,445.83 100,440 C102.5,434.17 103.33,429.67 110,425Z" fill="#c02838" fill-opacity="0.25" />
<path d="M122.8,426.2 C126.8,424.07 135.58,422.2 142,421.4 C148.42,420.6 154.87,420.33 161.3,421.4 C167.73,422.47 175.78,424.58 180.6,427.8 C185.42,431.02 188.07,436.42 190.2,440.7 C192.33,444.98 193.4,449.22 193.4,453.5 C193.4,457.78 192.87,462.65 190.2,466.4 C187.53,470.15 182.22,472.8 177.4,476 C172.58,479.2 167.2,482.38 161.3,485.6 C155.4,488.82 147.88,492.62 142,495.3 C136.12,497.98 130.28,501.17 126,501.7 C121.72,502.23 118.18,501.72 116.3,498.5 C114.42,495.28 114.7,487.75 114.7,482.4 C114.7,477.05 116.03,471.75 116.3,466.4 C116.57,461.05 116.02,455.67 116.3,450.3 C116.58,444.93 116.92,438.22 118,434.2 C119.08,430.18 118.8,428.33 122.8,426.2Z" fill="url(#rg12)" fill-opacity="0.95" />
<polyline points="1,531.7 1.75,352.4 217.1,339.5 295.8,375.5 295.5,556 78.7,569.9 1,531.7" fill="none" stroke="#111" stroke-width="1.8" stroke-linejoin="round"/>
<polyline points="217.1,339.5 217,518.8 295.5,556" fill="none" stroke="#111" stroke-width="1.4"/>
<polyline points="1,531.7 217,518.8" fill="none" stroke="#222" stroke-width="1.0"/>
<line x1="85.75" y1="569.45" x2="85.75" y2="565.95" stroke="#111" stroke-width="1.1" />
<line x1="123.58" y1="567.02" x2="123.58" y2="563.52" stroke="#111" stroke-width="1.1" />
<line x1="161.3" y1="564.6" x2="161.3" y2="561.1" stroke="#111" stroke-width="1.1" />
<line x1="199.02" y1="562.19" x2="199.02" y2="558.69" stroke="#111" stroke-width="1.1" />
<line x1="236.96" y1="559.75" x2="236.96" y2="556.25" stroke="#111" stroke-width="1.1" />
<line x1="274.69" y1="557.33" x2="274.69" y2="553.83" stroke="#111" stroke-width="1.1" />
<line x1="52.67" y1="557.1" x2="55.67" y2="556.1" stroke="#111" stroke-width="1" />
<line x1="26.64" y1="544.31" x2="29.64" y2="543.31" stroke="#111" stroke-width="1" />
<line x1="292.3" y1="384.5" x2="295.8" y2="384.5" stroke="#111" stroke-width="1.1" />
<line x1="292.3" y1="423.2" x2="295.8" y2="423.2" stroke="#111" stroke-width="1.1" />
<line x1="292.3" y1="462.5" x2="295.8" y2="462.5" stroke="#111" stroke-width="1.1" />
<line x1="292.3" y1="501.2" x2="295.8" y2="501.2" stroke="#111" stroke-width="1.1" />
<line x1="292.3" y1="540.5" x2="295.8" y2="540.5" stroke="#111" stroke-width="1.1" />
<text x="244.6" y="348.4" font-size="10.5" text-anchor="start" font-weight="bold" fill="#111" textLength="23.7" lengthAdjust="spacingAndGlyphs" >0 ms</text>
<text x="299.6" y="387.5" font-size="8.4" text-anchor="start" font-weight="normal" fill="#222" textLength="10.6" lengthAdjust="spacingAndGlyphs" stroke="#222" stroke-width="0.12">250</text>
<text x="299.6" y="426.2" font-size="8.4" text-anchor="start" font-weight="normal" fill="#222" textLength="10.6" lengthAdjust="spacingAndGlyphs" stroke="#222" stroke-width="0.12">200</text>
<text x="299.6" y="465.5" font-size="8.4" text-anchor="start" font-weight="normal" fill="#222" textLength="10.6" lengthAdjust="spacingAndGlyphs" stroke="#222" stroke-width="0.12">150</text>
<text x="299.6" y="504.2" font-size="8.4" text-anchor="start" font-weight="normal" fill="#222" textLength="10.6" lengthAdjust="spacingAndGlyphs" stroke="#222" stroke-width="0.12">100</text>
<text x="299.6" y="543.5" font-size="8.4" text-anchor="start" font-weight="normal" fill="#222" textLength="7.2" lengthAdjust="spacingAndGlyphs" stroke="#222" stroke-width="0.12">50</text>
<text x="0" y="0" font-size="10" font-weight="bold" fill="#111" text-anchor="middle" transform="translate(320.8,463.5) rotate(-90)">y+</text>
<text x="87.4" y="578.6" font-size="7.6" text-anchor="middle" font-weight="normal" fill="#222" stroke="#222" stroke-width="0.12">-250</text>
<text x="123.8" y="575.8" font-size="7.6" text-anchor="middle" font-weight="normal" fill="#222" stroke="#222" stroke-width="0.12">-200</text>
<text x="161" y="573.3" font-size="7.6" text-anchor="middle" font-weight="normal" fill="#222" stroke="#222" stroke-width="0.12">-150</text>
<text x="199" y="570.3" font-size="7.6" text-anchor="middle" font-weight="normal" fill="#222" stroke="#222" stroke-width="0.12">-100</text>
<text x="235.7" y="567.8" font-size="7.6" text-anchor="middle" font-weight="normal" fill="#222" stroke="#222" stroke-width="0.12">-50</text>
<text x="272" y="565.3" font-size="7.6" text-anchor="middle" font-weight="normal" fill="#222" stroke="#222" stroke-width="0.12">0</text>
<text x="186.4" y="583.3" font-size="11" text-anchor="middle" font-weight="bold" fill="#111" >x+</text>
<text x="227.2" y="606" font-size="11" fill="#111" textLength="83.4" lengthAdjust="spacingAndGlyphs">u<tspan font-size="7.5" dx="1.2" dy="3">ref</tspan><tspan dy="-3"> = u - 0.35 m/s</tspan></text>
<text x="13.1" y="547.6" font-size="7.6" text-anchor="middle" font-weight="normal" fill="#222" stroke="#222" stroke-width="0.12">200</text>
<text x="40.5" y="560.8" font-size="7.6" text-anchor="middle" font-weight="normal" fill="#222" stroke="#222" stroke-width="0.12">100</text>
<text x="71" y="573.6" font-size="7.6" text-anchor="middle" font-weight="normal" fill="#222" stroke="#222" stroke-width="0.12">0</text>
<text x="0" y="0" font-size="11" font-weight="bold" fill="#111" text-anchor="middle" transform="translate(20.4,559.1) rotate(25)">z+</text>
<polygon points="1.75,655.4 217,641.9 217,820.4 1,834.3" fill="#fafafa" />
<polygon points="1,834.3 217,820.4 295.9,857.8 77.7,871.9" fill="#7a7a7a" />
<polygon points="217,641.9 295.9,679 295.9,857.8 217,820.4" fill="#a0a0a0" />
<line x1="26.69" y1="846.9" x2="243.43" y2="832.93" stroke="#3a3a3a" stroke-width="0.8" />
<line x1="52.39" y1="859.49" x2="269.86" y2="845.46" stroke="#3a3a3a" stroke-width="0.8" />
<line x1="8.02" y1="833.85" x2="84.79" y2="871.44" stroke="#3a3a3a" stroke-width="0.8" />
<line x1="45.71" y1="831.42" x2="122.87" y2="868.98" stroke="#3a3a3a" stroke-width="0.8" />
<line x1="83.3" y1="829" x2="160.83" y2="866.53" stroke="#3a3a3a" stroke-width="0.8" />
<line x1="120.88" y1="826.59" x2="198.8" y2="864.07" stroke="#3a3a3a" stroke-width="0.8" />
<line x1="158.68" y1="824.15" x2="236.99" y2="861.61" stroke="#3a3a3a" stroke-width="0.8" />
<line x1="196.26" y1="821.73" x2="274.95" y2="859.15" stroke="#3a3a3a" stroke-width="0.8" />
<line x1="238.3" y1="651.92" x2="238.3" y2="830.5" stroke="#444" stroke-width="0.8" />
<line x1="266.31" y1="665.09" x2="266.31" y2="843.77" stroke="#444" stroke-width="0.8" />
<line x1="217" y1="650.5" x2="295.9" y2="687.6" stroke="#444" stroke-width="0.7" />
<line x1="217" y1="688.6" x2="295.9" y2="725.7" stroke="#444" stroke-width="0.7" />
<line x1="217" y1="727.9" x2="295.9" y2="765" stroke="#444" stroke-width="0.7" />
<line x1="217" y1="767.4" x2="295.9" y2="804.5" stroke="#444" stroke-width="0.7" />
<line x1="217" y1="806.2" x2="295.9" y2="843.3" stroke="#444" stroke-width="0.7" />
<line x1="8.75" y1="655.96" x2="8.02" y2="833.85" stroke="#777" stroke-width="0.8" />
<line x1="46.31" y1="653.61" x2="45.71" y2="831.42" stroke="#777" stroke-width="0.8" />
<line x1="83.76" y1="651.26" x2="83.3" y2="829" stroke="#777" stroke-width="0.8" />
<line x1="121.21" y1="648.91" x2="120.88" y2="826.59" stroke="#777" stroke-width="0.8" />
<line x1="158.88" y1="646.54" x2="158.68" y2="824.15" stroke="#777" stroke-width="0.8" />
<line x1="196.34" y1="644.2" x2="196.26" y2="821.73" stroke="#777" stroke-width="0.8" />
<line x1="1.75" y1="664" x2="217" y2="650.5" stroke="#777" stroke-width="0.8" />
<line x1="1.75" y1="702.1" x2="217" y2="688.6" stroke="#777" stroke-width="0.8" />
<line x1="1.75" y1="741.4" x2="217" y2="727.9" stroke="#777" stroke-width="0.8" />
<line x1="1.75" y1="780.9" x2="217" y2="767.4" stroke="#777" stroke-width="0.8" />
<line x1="1.75" y1="819.7" x2="217" y2="806.2" stroke="#777" stroke-width="0.8" />
<line x1="19" y1="815.3" x2="150" y2="809.3" stroke="#999" stroke-width="0.6" />
<line x1="19" y1="815.3" x2="49" y2="828.3" stroke="#999" stroke-width="0.6" />
<path d="M118.7,698.5 C123.13,695.65 128.22,693.43 133.9,690.9 C139.58,688.37 145.85,684.57 152.8,683.3 C159.75,682.03 169.27,682.35 175.6,683.3 C181.93,684.25 186.37,686.47 190.8,689 C195.23,691.53 199.83,694.67 202.2,698.5 C204.57,702.33 208.7,705.08 205,712 C201.3,718.92 192.5,728.67 180,740 C167.5,751.33 145,767.5 130,780 C115,792.5 100.12,809.93 90,815 C79.88,820.07 72.12,813.68 69.3,810.4 C66.48,807.12 71.2,800.35 73.1,795.3 C75,790.25 78.17,785.17 80.7,780.1 C83.23,775.03 85.77,769.33 88.3,764.9 C90.83,760.47 94,757.93 95.9,753.5 C97.8,749.07 98.75,743.37 99.7,738.3 C100.65,733.23 100.33,728.15 101.6,723.1 C102.87,718.05 104.45,712.1 107.3,708 C110.15,703.9 114.27,701.35 118.7,698.5Z" fill="url(#rg13)" fill-opacity="1" />
<path d="M18.4,706.6 L217,694.5 L272.4,728.2 L66.4,729.6Z" fill="url(#pg14)" fill-opacity="0.58"/>
<path d="M18.4,706.6 L217,694.5 L272.4,728.2 L66.4,729.6Z" fill="url(#pg14)" fill-opacity="1" mask="url(#mHL)"/>
<line x1="18.4" y1="705.6" x2="217" y2="693.5" stroke="#f05050" stroke-width="2.2" stroke-dasharray="1.6 2.2" stroke-opacity="0.75"/>
<path d="M18.4,706.6 L217,694.5 L241.93,709.66 L40,716.95Z" fill="url(#pg14)" fill-opacity="0.45"/>
<path d="M18.4,745.4 L217,734 L273.4,767 L66.4,768.4Z" fill="url(#pg15)" fill-opacity="0.58"/>
<path d="M18.4,745.4 L217,734 L273.4,767 L66.4,768.4Z" fill="url(#pg15)" fill-opacity="1" mask="url(#mHL)"/>
<line x1="18.4" y1="744.4" x2="217" y2="733" stroke="#f04050" stroke-width="2.2" stroke-dasharray="1.6 2.2" stroke-opacity="0.75"/>
<path d="M18.4,745.4 L217,734 L242.38,748.85 L40,755.75Z" fill="url(#pg15)" fill-opacity="0.45"/>
<path d="M18.4,784.2 L217,774 L275.5,806 L66.4,807.2Z" fill="url(#pg16)" fill-opacity="0.58"/>
<path d="M18.4,784.2 L217,774 L275.5,806 L66.4,807.2Z" fill="url(#pg16)" fill-opacity="1" mask="url(#mHL)"/>
<line x1="18.4" y1="783.2" x2="217" y2="773" stroke="#f04040" stroke-width="2.2" stroke-dasharray="1.6 2.2" stroke-opacity="0.75"/>
<path d="M18.4,784.2 L217,774 L243.32,788.4 L40,794.55Z" fill="url(#pg16)" fill-opacity="0.45"/>
<path d="M164.2,706.1 C170.52,701.37 176.23,703.13 183.2,702.3 C190.17,701.47 199.03,700.78 206,701.1 C212.97,701.42 219.62,702.73 225,704.2 C230.38,705.67 235.15,706.75 238.3,709.9 C241.45,713.05 242.33,718.37 243.9,723.1 C245.47,727.83 246.43,733.23 247.7,738.3 C248.97,743.37 251.5,748.43 251.5,753.5 C251.5,758.57 250.22,764.27 247.7,768.7 C245.18,773.13 240.82,776.93 236.4,780.1 C231.98,783.27 226.9,785.8 221.2,787.7 C215.5,789.6 207.9,790.23 202.2,791.5 C196.5,792.77 192.07,793.42 187,795.3 C181.93,797.18 177.5,800.28 171.8,802.8 C166.1,805.32 159.12,808.18 152.8,810.4 C146.48,812.62 140.22,814.2 133.9,816.1 C127.58,818 121.23,820.22 114.9,821.8 C108.57,823.38 102.23,824.33 95.9,825.6 C89.57,826.87 81.65,829.27 76.9,829.4 C72.15,829.53 68.67,828.93 67.4,826.4 C66.13,823.87 68.03,819.38 69.3,814.2 C70.57,809.02 72.47,800.98 75,795.3 C77.53,789.62 81.02,784.53 84.5,780.1 C87.98,775.67 91.47,771.87 95.9,768.7 C100.33,765.53 106.03,763 111.1,761.1 C116.17,759.2 121.87,759.83 126.3,757.3 C130.73,754.77 134.53,750.33 137.7,745.9 C140.87,741.47 140.88,737.33 145.3,730.7 C149.72,724.07 157.88,710.83 164.2,706.1Z" fill="url(#pg17)" fill-opacity="1" />
<path d="M150,725 C158.33,716.17 169.17,714.17 180,712 C190.83,709.83 205.83,709.83 215,712 C224.17,714.17 230.83,718.67 235,725 C239.17,731.33 240.83,742.5 240,750 C239.17,757.5 236.67,764.67 230,770 C223.33,775.33 210,778.67 200,782 C190,785.33 180,787 170,790 C160,793 147.5,800 140,800 C132.5,800 126.67,795.83 125,790 C123.33,784.17 125.83,775.83 130,765 C134.17,754.17 141.67,733.83 150,725Z" fill="#c02838" fill-opacity="0.25" />
<path d="M149,732.6 C152.78,729.43 158.5,725.63 164.2,723.1 C169.9,720.57 177.5,718.03 183.2,717.4 C188.9,716.77 194.28,717.4 198.4,719.3 C202.52,721.2 206,724.37 207.9,728.8 C209.8,733.23 210.12,740.52 209.8,745.9 C209.48,751.28 207.9,757.3 206,761.1 C204.1,764.9 202.2,766.8 198.4,768.7 C194.6,770.6 188.27,770.92 183.2,772.5 C178.13,774.08 173.07,776.3 168,778.2 C162.93,780.1 157.22,782.95 152.8,783.9 C148.38,784.85 144.33,785.8 141.5,783.9 C138.67,782 136.43,776.93 135.8,772.5 C135.17,768.07 136.75,762.37 137.7,757.3 C138.65,752.23 139.62,746.22 141.5,742.1 C143.38,737.98 145.22,735.77 149,732.6Z" fill="url(#rg18)" fill-opacity="0.95" />
<polyline points="1,834.3 1.75,655.4 217,641.9 295.9,679 295.9,857.8 77.7,871.9 1,834.3" fill="none" stroke="#111" stroke-width="1.8" stroke-linejoin="round"/>
<polyline points="217,641.9 217,820.4 295.9,857.8" fill="none" stroke="#111" stroke-width="1.4"/>
<polyline points="1,834.3 217,820.4" fill="none" stroke="#222" stroke-width="1.0"/>
<line x1="84.79" y1="871.44" x2="84.79" y2="867.94" stroke="#111" stroke-width="1.1" />
<line x1="122.87" y1="868.98" x2="122.87" y2="865.48" stroke="#111" stroke-width="1.1" />
<line x1="160.83" y1="866.53" x2="160.83" y2="863.03" stroke="#111" stroke-width="1.1" />
<line x1="198.8" y1="864.07" x2="198.8" y2="860.57" stroke="#111" stroke-width="1.1" />
<line x1="236.99" y1="861.61" x2="236.99" y2="858.11" stroke="#111" stroke-width="1.1" />
<line x1="274.95" y1="859.15" x2="274.95" y2="855.65" stroke="#111" stroke-width="1.1" />
<line x1="52.01" y1="859.3" x2="55.01" y2="858.3" stroke="#111" stroke-width="1" />
<line x1="26.31" y1="846.71" x2="29.31" y2="845.71" stroke="#111" stroke-width="1" />
<line x1="292.4" y1="687.6" x2="295.9" y2="687.6" stroke="#111" stroke-width="1.1" />
<line x1="292.4" y1="725.7" x2="295.9" y2="725.7" stroke="#111" stroke-width="1.1" />
<line x1="292.4" y1="765" x2="295.9" y2="765" stroke="#111" stroke-width="1.1" />
<line x1="292.4" y1="804.5" x2="295.9" y2="804.5" stroke="#111" stroke-width="1.1" />
<line x1="292.4" y1="843.3" x2="295.9" y2="843.3" stroke="#111" stroke-width="1.1" />
<text x="244.2" y="651.5" font-size="10.5" text-anchor="start" font-weight="bold" fill="#111" textLength="40.2" lengthAdjust="spacingAndGlyphs" >+ 60 ms</text>
<text x="299.3" y="690.6" font-size="8.4" text-anchor="start" font-weight="normal" fill="#222" textLength="10.6" lengthAdjust="spacingAndGlyphs" stroke="#222" stroke-width="0.12">250</text>
<text x="299.3" y="728.7" font-size="8.4" text-anchor="start" font-weight="normal" fill="#222" textLength="10.6" lengthAdjust="spacingAndGlyphs" stroke="#222" stroke-width="0.12">200</text>
<text x="299.3" y="768" font-size="8.4" text-anchor="start" font-weight="normal" fill="#222" textLength="10.6" lengthAdjust="spacingAndGlyphs" stroke="#222" stroke-width="0.12">150</text>
<text x="299.3" y="807.5" font-size="8.4" text-anchor="start" font-weight="normal" fill="#222" textLength="10.6" lengthAdjust="spacingAndGlyphs" stroke="#222" stroke-width="0.12">100</text>
<text x="299.3" y="846.3" font-size="8.4" text-anchor="start" font-weight="normal" fill="#222" textLength="7.2" lengthAdjust="spacingAndGlyphs" stroke="#222" stroke-width="0.12">50</text>
<text x="0" y="0" font-size="10" font-weight="bold" fill="#111" text-anchor="middle" transform="translate(320.5,767) rotate(-90)">y+</text>
<text x="86.9" y="880.3" font-size="7.6" text-anchor="middle" font-weight="normal" fill="#222" stroke="#222" stroke-width="0.12">-250</text>
<text x="123.6" y="878.2" font-size="7.6" text-anchor="middle" font-weight="normal" fill="#222" stroke="#222" stroke-width="0.12">-200</text>
<text x="161" y="875.9" font-size="7.6" text-anchor="middle" font-weight="normal" fill="#222" stroke="#222" stroke-width="0.12">-150</text>
<text x="198.6" y="873.1" font-size="7.6" text-anchor="middle" font-weight="normal" fill="#222" stroke="#222" stroke-width="0.12">-100</text>
<text x="236" y="871.1" font-size="7.6" text-anchor="middle" font-weight="normal" fill="#222" stroke="#222" stroke-width="0.12">-50</text>
<text x="272.8" y="868.4" font-size="7.6" text-anchor="middle" font-weight="normal" fill="#222" stroke="#222" stroke-width="0.12">0</text>
<text x="186" y="885.8" font-size="11" text-anchor="middle" font-weight="bold" fill="#111" >x+</text>
<text x="226.8" y="896.8" font-size="11" fill="#111" textLength="84.2" lengthAdjust="spacingAndGlyphs">u<tspan font-size="7.5" dx="1.2" dy="3">ref</tspan><tspan dy="-3"> = u - 0.35 m/s</tspan></text>
<text x="13.3" y="850.6" font-size="7.6" text-anchor="middle" font-weight="normal" fill="#222" stroke="#222" stroke-width="0.12">200</text>
<text x="40.9" y="863.3" font-size="7.6" text-anchor="middle" font-weight="normal" fill="#222" stroke="#222" stroke-width="0.12">100</text>
<text x="70.9" y="875.8" font-size="7.6" text-anchor="middle" font-weight="normal" fill="#222" stroke="#222" stroke-width="0.12">0</text>
<text x="0" y="0" font-size="11" font-weight="bold" fill="#111" text-anchor="middle" transform="translate(20.4,862.4) rotate(25)">z+</text>
<polygon points="441.3,66.6 649.2,62.6 648.8,243.9 441.3,246.6" fill="#f8f8f8" />
<polygon points="344.8,59.4 441.3,66.6 441.3,246.6 344.2,239.9" fill="#a9a9a9" />
<polygon points="344.8,59.4 550,55.4 649.2,62.6 441.3,66.6" fill="#404040" />
<polygon points="375.58,58.8 550,55.4 586.83,63.8 412.35,64.44" fill="#5a5a5a" fill-opacity="0.6"/>
<line x1="448.4" y1="65.6" x2="448.4" y2="245.6" stroke="#888" stroke-width="0.8" />
<line x1="483.5" y1="65.6" x2="483.5" y2="245.6" stroke="#888" stroke-width="0.8" />
<line x1="518.8" y1="65.6" x2="518.8" y2="245.6" stroke="#888" stroke-width="0.8" />
<line x1="555.2" y1="65.6" x2="555.2" y2="245.6" stroke="#888" stroke-width="0.8" />
<line x1="591" y1="65.6" x2="591" y2="245.6" stroke="#888" stroke-width="0.8" />
<line x1="626.7" y1="65.6" x2="626.7" y2="245.6" stroke="#888" stroke-width="0.8" />
<line x1="441.3" y1="71.8" x2="649.2" y2="71.3" stroke="#888" stroke-width="0.8" />
<line x1="441.3" y1="111.5" x2="649.2" y2="111" stroke="#888" stroke-width="0.8" />
<line x1="441.3" y1="150.8" x2="649.2" y2="150.3" stroke="#888" stroke-width="0.8" />
<line x1="441.3" y1="190" x2="649.2" y2="189.5" stroke="#888" stroke-width="0.8" />
<line x1="441.3" y1="229.2" x2="649.2" y2="228.7" stroke="#888" stroke-width="0.8" />
<line x1="361.3" y1="216.2" x2="579.2" y2="214.2" stroke="#999" stroke-width="0.6" />
<line x1="441.3" y1="225.2" x2="629.2" y2="224.7" stroke="#aaa" stroke-width="0.6" />
<line x1="349.62" y1="59.76" x2="349.62" y2="240.24" stroke="#555" stroke-width="0.7" />
<line x1="382.44" y1="62.21" x2="382.44" y2="242.51" stroke="#555" stroke-width="0.7" />
<line x1="415.25" y1="64.66" x2="415.25" y2="244.79" stroke="#555" stroke-width="0.7" />
<line x1="344.8" y1="66.8" x2="441.3" y2="73.8" stroke="#666" stroke-width="0.6" />
<line x1="344.8" y1="106.5" x2="441.3" y2="113.5" stroke="#666" stroke-width="0.6" />
<line x1="344.8" y1="145.8" x2="441.3" y2="152.8" stroke="#666" stroke-width="0.6" />
<line x1="344.8" y1="185" x2="441.3" y2="192" stroke="#666" stroke-width="0.6" />
<line x1="344.8" y1="224.2" x2="441.3" y2="231.2" stroke="#666" stroke-width="0.6" />
<path d="M502.8,103 C505.62,101.2 512.48,100.57 518.1,99.9 C523.72,99.23 530.88,98.48 536.5,99 C542.12,99.52 548.22,101.05 551.8,103 C555.38,104.95 556.2,106.87 558,110.7 C559.8,114.53 562.1,121.42 562.6,126 C563.1,130.58 562.28,135.4 561,138.2 C559.72,141 558.98,141.77 554.9,142.8 C550.82,143.83 543.65,144.13 536.5,144.4 C529.35,144.67 518.65,144.67 512,144.4 C505.35,144.13 499.67,144.33 496.6,142.8 C493.53,141.27 493.33,138.52 493.6,135.2 C493.87,131.88 496.93,126.98 498.2,122.9 C499.47,118.82 500.43,114.02 501.2,110.7 C501.97,107.38 499.98,104.8 502.8,103Z" fill="url(#rg19)" fill-opacity="1" />
<path d="M475.9,88.2 C479.08,88.4 483.92,87.67 488,90 C492.08,92.33 498.33,97.45 500.4,102.2 C502.47,106.95 501.18,113.43 500.4,118.5 C499.62,123.57 498.03,128.12 495.7,132.6 C493.37,137.08 488.73,141.52 486.4,145.4 C484.07,149.28 483.85,153.17 481.7,155.9 C479.55,158.63 477.38,160.53 473.5,161.8 C469.62,163.07 462.87,163.9 458.4,163.5 C453.93,163.1 449.23,161.63 446.7,159.4 C444.17,157.17 443.88,153.6 443.2,150.1 C442.52,146.6 442.42,142.68 442.6,138.4 C442.78,134.12 443.43,128.68 444.3,124.4 C445.17,120.12 446.23,116.78 447.8,112.7 C449.37,108.62 451.35,103.4 453.7,99.9 C456.05,96.4 459.37,93.55 461.9,91.7 C464.43,89.85 466.57,89.38 468.9,88.8 C471.23,88.22 472.72,88 475.9,88.2Z" fill="url(#rg20)" fill-opacity="0.95" />
<path d="M456,113.9 C457.95,111.95 460.88,109.98 464.2,109.2 C467.52,108.42 472.4,108.62 475.9,109.2 C479.4,109.78 482.87,111.15 485.2,112.7 C487.53,114.25 489.32,115.78 489.9,118.5 C490.48,121.22 489.68,125.68 488.7,129 C487.72,132.32 486.13,135.87 484,138.4 C481.87,140.93 479.2,143.03 475.9,144.2 C472.6,145.37 467.9,145.58 464.2,145.4 C460.5,145.22 455.83,145.23 453.7,143.1 C451.57,140.97 451.6,136.3 451.4,132.6 C451.2,128.9 451.73,124.02 452.5,120.9 C453.27,117.78 454.05,115.85 456,113.9Z" fill="url(#rg21)" fill-opacity="0.95" />
<path d="M349,106.2 C356.67,106.16 428.42,106.67 441,106.5 C453.58,106.33 490.08,104.37 500,104.2 C509.92,104.03 551.67,104.27 560,104.5 C568.33,104.73 595.08,106.53 600,107 C604.92,107.47 618,109.6 619,110.1 C620,110.6 614.42,112.42 612,113 C609.58,113.58 593.67,116.29 590,117 C586.33,117.71 571.67,120.75 568,121.5 C564.33,122.25 549.67,125.43 546,126 C542.33,126.57 527.67,128.2 524,128.3 C520.33,128.4 505.67,127.43 502,127.2 C498.33,126.97 485.08,126.06 480,125.5 C474.92,124.94 447.67,121.46 441,120.5 C434.33,119.54 407.67,115.12 400,114 C392.33,112.88 353.25,107.65 349,107 C344.75,106.35 341.33,106.24 349,106.2Z" fill="url(#pg22)" fill-opacity="1"/>
<path d="M349,106.2 C356.67,106.16 428.42,106.67 441,106.5 C453.58,106.33 490.08,104.37 500,104.2 C509.92,104.03 551.67,104.27 560,104.5 C568.33,104.73 595.08,106.53 600,107 C604.92,107.47 618,109.6 619,110.1 C620,110.6 614.42,112.42 612,113 C609.58,113.58 593.67,116.29 590,117 C586.33,117.71 571.67,120.75 568,121.5 C564.33,122.25 549.67,125.43 546,126 C542.33,126.57 527.67,128.2 524,128.3 C520.33,128.4 505.67,127.43 502,127.2 C498.33,126.97 485.08,126.06 480,125.5 C474.92,124.94 447.67,121.46 441,120.5 C434.33,119.54 407.67,115.12 400,114 C392.33,112.88 353.25,107.65 349,107 C344.75,106.35 341.33,106.24 349,106.2Z" fill="url(#pg23)" />
<path d="M349,106.2 C356.67,106.16 428.42,106.67 441,106.5 C453.58,106.33 490.08,104.37 500,104.2 C509.92,104.03 551.67,104.27 560,104.5 C568.33,104.73 595.08,106.53 600,107 C604.92,107.47 618,109.6 619,110.1 C620,110.6 614.42,112.42 612,113 C609.58,113.58 593.67,116.29 590,117 C586.33,117.71 571.67,120.75 568,121.5 C564.33,122.25 549.67,125.43 546,126 C542.33,126.57 527.67,128.2 524,128.3 C520.33,128.4 505.67,127.43 502,127.2 C498.33,126.97 485.08,126.06 480,125.5 C474.92,124.94 447.67,121.46 441,120.5 C434.33,119.54 407.67,115.12 400,114 C392.33,112.88 353.25,107.65 349,107 C344.75,106.35 341.33,106.24 349,106.2Z" fill="#ffffff" fill-opacity="0.12" mask="url(#mDR)"/>
<path d="M349,106.2 C356.67,106.23 428.42,106.67 441,106.5 C453.58,106.33 490.08,104.37 500,104.2 C509.92,104.03 551.67,104.27 560,104.5 C568.33,104.73 595.08,106.53 600,107 C604.92,107.47 617.42,109.84 619,110.1" fill="none" stroke="#2030d8" stroke-width="1.2" stroke-opacity="0.8" stroke-dasharray="1.5 1.2"/>
<path d="M356,146.1 C363.08,145.92 429,144.82 441,144.7 C453,144.58 490.08,144.67 500,144.7 C509.92,144.72 551.67,144.81 560,145 C568.33,145.19 595.35,146.66 600,147 C604.65,147.34 614.88,148.74 615.8,149.1 C616.72,149.46 613.15,150.75 611,151.3 C608.85,151.85 593.58,154.97 590,155.7 C586.42,156.42 571.67,159.28 568,160 C564.33,160.72 549.67,163.85 546,164.4 C542.33,164.95 527.67,166.51 524,166.6 C520.33,166.69 505.67,165.8 502,165.5 C498.33,165.2 485.08,163.43 480,163 C474.92,162.57 447.67,161.15 441,160.4 C434.33,159.65 407.08,155.13 400,154 C392.92,152.87 359.67,147.46 356,146.8 C352.33,146.14 348.92,146.28 356,146.1Z" fill="url(#pg24)" fill-opacity="1"/>
<path d="M356,146.1 C363.08,145.92 429,144.82 441,144.7 C453,144.58 490.08,144.67 500,144.7 C509.92,144.72 551.67,144.81 560,145 C568.33,145.19 595.35,146.66 600,147 C604.65,147.34 614.88,148.74 615.8,149.1 C616.72,149.46 613.15,150.75 611,151.3 C608.85,151.85 593.58,154.97 590,155.7 C586.42,156.42 571.67,159.28 568,160 C564.33,160.72 549.67,163.85 546,164.4 C542.33,164.95 527.67,166.51 524,166.6 C520.33,166.69 505.67,165.8 502,165.5 C498.33,165.2 485.08,163.43 480,163 C474.92,162.57 447.67,161.15 441,160.4 C434.33,159.65 407.08,155.13 400,154 C392.92,152.87 359.67,147.46 356,146.8 C352.33,146.14 348.92,146.28 356,146.1Z" fill="url(#pg25)" />
<path d="M356,146.1 C363.08,145.92 429,144.82 441,144.7 C453,144.58 490.08,144.67 500,144.7 C509.92,144.72 551.67,144.81 560,145 C568.33,145.19 595.35,146.66 600,147 C604.65,147.34 614.88,148.74 615.8,149.1 C616.72,149.46 613.15,150.75 611,151.3 C608.85,151.85 593.58,154.97 590,155.7 C586.42,156.42 571.67,159.28 568,160 C564.33,160.72 549.67,163.85 546,164.4 C542.33,164.95 527.67,166.51 524,166.6 C520.33,166.69 505.67,165.8 502,165.5 C498.33,165.2 485.08,163.43 480,163 C474.92,162.57 447.67,161.15 441,160.4 C434.33,159.65 407.08,155.13 400,154 C392.92,152.87 359.67,147.46 356,146.8 C352.33,146.14 348.92,146.28 356,146.1Z" fill="#ffffff" fill-opacity="0.12" mask="url(#mDR)"/>
<path d="M356,146.1 C363.08,145.98 429,144.82 441,144.7 C453,144.58 490.08,144.67 500,144.7 C509.92,144.72 551.67,144.81 560,145 C568.33,145.19 595.35,146.66 600,147 C604.65,147.34 614.48,148.92 615.8,149.1" fill="none" stroke="#2030d8" stroke-width="1.2" stroke-opacity="0.8" stroke-dasharray="1.5 1.2"/>
<path d="M357,186 C364,185.85 429.08,185.15 441,185 C452.92,184.85 490.08,184.24 500,184.2 C509.92,184.16 551.67,184.31 560,184.5 C568.33,184.69 595.53,186.17 600,186.5 C604.47,186.83 613.6,188.21 613.6,188.5 C613.6,188.79 603.8,189.54 600,190 C596.2,190.46 574.33,193.3 568,194 C561.67,194.7 531.33,198.12 524,198.4 C516.67,198.68 486.92,197.42 480,197.3 C473.08,197.18 447.67,197.44 441,197 C434.33,196.56 407,192.85 400,192 C393,191.15 360.58,187.3 357,186.8 C353.42,186.3 350,186.15 357,186Z" fill="url(#pg26)" fill-opacity="1"/>
<path d="M357,186 C364,185.85 429.08,185.15 441,185 C452.92,184.85 490.08,184.24 500,184.2 C509.92,184.16 551.67,184.31 560,184.5 C568.33,184.69 595.53,186.17 600,186.5 C604.47,186.83 613.6,188.21 613.6,188.5 C613.6,188.79 603.8,189.54 600,190 C596.2,190.46 574.33,193.3 568,194 C561.67,194.7 531.33,198.12 524,198.4 C516.67,198.68 486.92,197.42 480,197.3 C473.08,197.18 447.67,197.44 441,197 C434.33,196.56 407,192.85 400,192 C393,191.15 360.58,187.3 357,186.8 C353.42,186.3 350,186.15 357,186Z" fill="url(#pg27)" />
<path d="M357,186 C364,185.85 429.08,185.15 441,185 C452.92,184.85 490.08,184.24 500,184.2 C509.92,184.16 551.67,184.31 560,184.5 C568.33,184.69 595.53,186.17 600,186.5 C604.47,186.83 613.6,188.21 613.6,188.5 C613.6,188.79 603.8,189.54 600,190 C596.2,190.46 574.33,193.3 568,194 C561.67,194.7 531.33,198.12 524,198.4 C516.67,198.68 486.92,197.42 480,197.3 C473.08,197.18 447.67,197.44 441,197 C434.33,196.56 407,192.85 400,192 C393,191.15 360.58,187.3 357,186.8 C353.42,186.3 350,186.15 357,186Z" fill="#ffffff" fill-opacity="0.12" mask="url(#mDR)"/>
<path d="M357,186 C364,185.92 429.08,185.15 441,185 C452.92,184.85 490.08,184.24 500,184.2 C509.92,184.16 551.67,184.31 560,184.5 C568.33,184.69 595.53,186.17 600,186.5 C604.47,186.83 612.47,188.33 613.6,188.5" fill="none" stroke="#2030d8" stroke-width="1.2" stroke-opacity="0.8" stroke-dasharray="1.5 1.2"/>
<path d="M475.9,88.2 C479.08,88.4 483.92,87.67 488,90 C492.08,92.33 498.33,97.45 500.4,102.2 C502.47,106.95 501.18,113.43 500.4,118.5 C499.62,123.57 498.03,128.12 495.7,132.6 C493.37,137.08 488.73,141.52 486.4,145.4 C484.07,149.28 483.85,153.17 481.7,155.9 C479.55,158.63 477.38,160.53 473.5,161.8 C469.62,163.07 462.87,163.9 458.4,163.5 C453.93,163.1 449.23,161.63 446.7,159.4 C444.17,157.17 443.88,153.6 443.2,150.1 C442.52,146.6 442.42,142.68 442.6,138.4 C442.78,134.12 443.43,128.68 444.3,124.4 C445.17,120.12 446.23,116.78 447.8,112.7 C449.37,108.62 451.35,103.4 453.7,99.9 C456.05,96.4 459.37,93.55 461.9,91.7 C464.43,89.85 466.57,89.38 468.9,88.8 C471.23,88.22 472.72,88 475.9,88.2Z" fill="url(#rg20)" fill-opacity="0.5" />
<path d="M456,113.9 C457.95,111.95 460.88,109.98 464.2,109.2 C467.52,108.42 472.4,108.62 475.9,109.2 C479.4,109.78 482.87,111.15 485.2,112.7 C487.53,114.25 489.32,115.78 489.9,118.5 C490.48,121.22 489.68,125.68 488.7,129 C487.72,132.32 486.13,135.87 484,138.4 C481.87,140.93 479.2,143.03 475.9,144.2 C472.6,145.37 467.9,145.58 464.2,145.4 C460.5,145.22 455.83,145.23 453.7,143.1 C451.57,140.97 451.6,136.3 451.4,132.6 C451.2,128.9 451.73,124.02 452.5,120.9 C453.27,117.78 454.05,115.85 456,113.9Z" fill="url(#rg21)" fill-opacity="0.5" />
<line x1="377.7" y1="128.7" x2="436.61" y2="126.08" stroke="#111" stroke-width="1.3" />
<polygon points="445.1,125.7 436.8,130.37 436.42,121.78" fill="#111" />
<polyline points="344.2,239.9 344.8,59.4 550,55.4 649.2,62.6 648.8,243.9 441.3,246.6 344.2,239.9" fill="none" stroke="#111" stroke-width="1.8" stroke-linejoin="round"/>
<polyline points="344.8,59.4 441.3,66.6 441.3,246.6" fill="none" stroke="#111" stroke-width="1.6"/>
<polyline points="441.3,66.6 649.2,62.6" fill="none" stroke="#111" stroke-width="1.2"/>
<line x1="448.4" y1="246.51" x2="448.4" y2="243.01" stroke="#111" stroke-width="1.1" />
<line x1="483.5" y1="246.05" x2="483.5" y2="242.55" stroke="#111" stroke-width="1.1" />
<line x1="518.8" y1="245.59" x2="518.8" y2="242.09" stroke="#111" stroke-width="1.1" />
<line x1="555.2" y1="245.12" x2="555.2" y2="241.62" stroke="#111" stroke-width="1.1" />
<line x1="591" y1="244.65" x2="591" y2="241.15" stroke="#111" stroke-width="1.1" />
<line x1="626.7" y1="244.19" x2="626.7" y2="240.69" stroke="#111" stroke-width="1.1" />
<line x1="349.06" y1="240.24" x2="349.06" y2="236.74" stroke="#111" stroke-width="1.1" />
<line x1="382.07" y1="242.51" x2="382.07" y2="239.01" stroke="#111" stroke-width="1.1" />
<line x1="415.08" y1="244.79" x2="415.08" y2="241.29" stroke="#111" stroke-width="1.1" />
<line x1="645.3" y1="70.8" x2="648.8" y2="70.8" stroke="#111" stroke-width="1.1" />
<line x1="645.3" y1="110.5" x2="648.8" y2="110.5" stroke="#111" stroke-width="1.1" />
<line x1="645.3" y1="149.8" x2="648.8" y2="149.8" stroke="#111" stroke-width="1.1" />
<line x1="645.3" y1="189" x2="648.8" y2="189" stroke="#111" stroke-width="1.1" />
<line x1="645.3" y1="228.2" x2="648.8" y2="228.2" stroke="#111" stroke-width="1.1" />
<text x="597.1" y="50.9" font-size="10.5" text-anchor="start" font-weight="bold" fill="#111" textLength="36.2" lengthAdjust="spacingAndGlyphs" >- 60 ms</text>
<text x="652.3" y="73.8" font-size="8.4" text-anchor="start" font-weight="normal" fill="#222" textLength="10.6" lengthAdjust="spacingAndGlyphs" stroke="#222" stroke-width="0.12">250</text>
<text x="652.3" y="113.5" font-size="8.4" text-anchor="start" font-weight="normal" fill="#222" textLength="10.6" lengthAdjust="spacingAndGlyphs" stroke="#222" stroke-width="0.12">200</text>
<text x="652.3" y="152.8" font-size="8.4" text-anchor="start" font-weight="normal" fill="#222" textLength="10.6" lengthAdjust="spacingAndGlyphs" stroke="#222" stroke-width="0.12">150</text>
<text x="652.3" y="192" font-size="8.4" text-anchor="start" font-weight="normal" fill="#222" textLength="10.6" lengthAdjust="spacingAndGlyphs" stroke="#222" stroke-width="0.12">100</text>
<text x="652.3" y="231.2" font-size="8.4" text-anchor="start" font-weight="normal" fill="#222" textLength="7.2" lengthAdjust="spacingAndGlyphs" stroke="#222" stroke-width="0.12">50</text>
<text x="0" y="0" font-size="10" font-weight="bold" fill="#111" text-anchor="middle" transform="translate(673,153.5) rotate(-90)">y+</text>
<text x="448.4" y="256.1" font-size="7.6" text-anchor="middle" font-weight="normal" fill="#222" stroke="#222" stroke-width="0.12">-250</text>
<text x="483.5" y="255.2" font-size="7.6" text-anchor="middle" font-weight="normal" fill="#222" stroke="#222" stroke-width="0.12">-200</text>
<text x="518.8" y="254.9" font-size="7.6" text-anchor="middle" font-weight="normal" fill="#222" stroke="#222" stroke-width="0.12">-150</text>
<text x="555.2" y="254.1" font-size="7.6" text-anchor="middle" font-weight="normal" fill="#222" stroke="#222" stroke-width="0.12">-100</text>
<text x="591" y="253.7" font-size="7.6" text-anchor="middle" font-weight="normal" fill="#222" stroke="#222" stroke-width="0.12">-50</text>
<text x="626.7" y="252.7" font-size="7.6" text-anchor="middle" font-weight="normal" fill="#222" stroke="#222" stroke-width="0.12">0</text>
<text x="582.8" y="265.3" font-size="11" text-anchor="middle" font-weight="bold" fill="#111" >x+</text>
<text x="580.2" y="298.9" font-size="11" fill="#111" textLength="77.6" lengthAdjust="spacingAndGlyphs">u<tspan font-size="7.5" dx="1.2" dy="3">ref</tspan><tspan dy="-3"> = u - 0.4 m/s</tspan></text>
<text x="348.3" y="248.6" font-size="7.6" text-anchor="middle" font-weight="normal" fill="#222" stroke="#222" stroke-width="0.12">0</text>
<text x="382" y="251.6" font-size="7.6" text-anchor="middle" font-weight="normal" fill="#222" stroke="#222" stroke-width="0.12">100</text>
<text x="415.1" y="253.7" font-size="7.6" text-anchor="middle" font-weight="normal" fill="#222" stroke="#222" stroke-width="0.12">200</text>
<text x="392.2" y="270.4" font-size="11" text-anchor="middle" font-weight="bold" fill="#111" >z+</text>
<polygon points="437.3,371.7 646.8,367.6 646.7,549.7 437.3,552.5" fill="#f8f8f8" />
<polygon points="340.6,363.5 437.3,371.7 437.3,552.5 340.2,545.8" fill="#a9a9a9" />
<polygon points="340.6,363.5 545.8,359.5 646.8,367.6 437.3,371.7" fill="#404040" />
<polygon points="371.38,362.9 545.8,359.5 583.95,368.83 408.29,369.24" fill="#5a5a5a" fill-opacity="0.6"/>
<line x1="444" y1="370.7" x2="444" y2="551.5" stroke="#888" stroke-width="0.8" />
<line x1="480.6" y1="370.7" x2="480.6" y2="551.5" stroke="#888" stroke-width="0.8" />
<line x1="516.4" y1="370.7" x2="516.4" y2="551.5" stroke="#888" stroke-width="0.8" />
<line x1="552.2" y1="370.7" x2="552.2" y2="551.5" stroke="#888" stroke-width="0.8" />
<line x1="588" y1="370.7" x2="588" y2="551.5" stroke="#888" stroke-width="0.8" />
<line x1="623.7" y1="370.7" x2="623.7" y2="551.5" stroke="#888" stroke-width="0.8" />
<line x1="437.3" y1="376.8" x2="646.8" y2="376.3" stroke="#888" stroke-width="0.8" />
<line x1="437.3" y1="416.8" x2="646.8" y2="416.3" stroke="#888" stroke-width="0.8" />
<line x1="437.3" y1="456.2" x2="646.8" y2="455.7" stroke="#888" stroke-width="0.8" />
<line x1="437.3" y1="495.5" x2="646.8" y2="495" stroke="#888" stroke-width="0.8" />
<line x1="437.3" y1="535.4" x2="646.8" y2="534.9" stroke="#888" stroke-width="0.8" />
<line x1="357.3" y1="522.4" x2="576.8" y2="520.4" stroke="#999" stroke-width="0.6" />
<line x1="437.3" y1="531.4" x2="626.8" y2="530.9" stroke="#aaa" stroke-width="0.6" />
<line x1="345.44" y1="363.91" x2="345.44" y2="546.13" stroke="#555" stroke-width="0.7" />
<line x1="378.31" y1="366.7" x2="378.31" y2="548.41" stroke="#555" stroke-width="0.7" />
<line x1="411.19" y1="369.49" x2="411.19" y2="550.69" stroke="#555" stroke-width="0.7" />
<line x1="340.6" y1="371.8" x2="437.3" y2="378.8" stroke="#666" stroke-width="0.6" />
<line x1="340.6" y1="411.8" x2="437.3" y2="418.8" stroke="#666" stroke-width="0.6" />
<line x1="340.6" y1="451.2" x2="437.3" y2="458.2" stroke="#666" stroke-width="0.6" />
<line x1="340.6" y1="490.5" x2="437.3" y2="497.5" stroke="#666" stroke-width="0.6" />
<line x1="340.6" y1="530.4" x2="437.3" y2="537.4" stroke="#666" stroke-width="0.6" />
<path d="M511.2,396.8 C513.25,392.72 516.83,392.23 520.4,390.7 C523.97,389.17 528,388.22 532.6,387.6 C537.2,386.98 542.88,386.48 548,387 C553.12,387.52 559.22,388.55 563.3,390.7 C567.38,392.85 570.68,396.93 572.5,399.9 C574.32,402.87 575.23,404.93 574.2,408.5 C573.17,412.07 568.13,416.55 566.3,421.3 C564.47,426.05 565.18,432.93 563.2,437 C561.22,441.07 556.43,442.18 554.4,445.7 C552.37,449.22 553.6,453.48 551,458.1 C548.4,462.72 544.8,470 538.8,473.4 C532.8,476.8 521.88,476.73 515,478.5 C508.12,480.27 501.87,483.63 497.5,484 C493.13,484.37 490.1,482.2 488.8,480.7 C487.5,479.2 487.5,477.75 489.7,475 C491.9,472.25 498.93,468.03 502,464.2 C505.07,460.37 506.83,457.1 508.1,452 C509.37,446.9 509.6,439.73 509.6,433.6 C509.6,427.47 507.83,421.33 508.1,415.2 C508.37,409.07 509.15,400.88 511.2,396.8Z" fill="url(#rg28)" fill-opacity="1" />
<path d="M481.2,367.5 L482.8,367.5 L483.2,382 L480.6,382Z" fill="#e89040"/>
<path d="M466.7,383 C468.23,381.2 469,380.92 471.3,379.9 C473.6,378.88 477.43,377.15 480.5,376.9 C483.57,376.65 486.88,377.13 489.7,378.4 C492.52,379.67 495.35,381.95 497.4,384.5 C499.45,387.05 500.22,390.63 502,393.7 C503.78,396.77 506.57,399.83 508.1,402.9 C509.63,405.97 510.68,408.02 511.2,412.1 C511.72,416.18 511.72,421.78 511.2,427.4 C510.68,433.02 509.63,440.17 508.1,445.8 C506.57,451.43 504.55,456.6 502,461.2 C499.45,465.8 496.9,470.33 492.8,473.4 C488.7,476.47 482.52,478.32 477.4,479.6 C472.28,480.88 467.2,481.37 462.1,481.1 C457,480.83 450.88,480.3 446.8,478 C442.72,475.7 440.67,471.13 437.6,467.3 C434.53,463.47 431.47,458.07 428.4,455 C425.33,451.93 420.98,450.93 419.2,448.9 C417.42,446.87 416.68,444.85 417.7,442.8 C418.72,440.75 421.47,438.65 425.3,436.6 C429.13,434.55 436.6,433.05 440.7,430.5 C444.8,427.95 447.35,425.38 449.9,421.3 C452.45,417.22 453.97,411.1 456,406 C458.03,400.9 460.32,394.53 462.1,390.7 C463.88,386.87 465.17,384.8 466.7,383Z" fill="url(#rg29)" fill-opacity="0.95" />
<path d="M474.4,406 C477.97,403.95 482.52,402.65 486.6,402.9 C490.68,403.15 495.83,404.43 498.9,407.5 C501.97,410.57 503.98,415.93 505,421.3 C506.02,426.67 506.02,433.57 505,439.7 C503.98,445.83 501.97,452.98 498.9,458.1 C495.83,463.22 491.2,467.85 486.6,470.4 C482,472.95 476.92,473.4 471.3,473.4 C465.68,473.4 458,472.43 452.9,470.4 C447.8,468.37 443.25,464.78 440.7,461.2 C438.15,457.62 437.1,453 437.6,448.9 C438.1,444.8 440.63,440.18 443.7,436.6 C446.77,433.02 452.42,430.97 456,427.4 C459.58,423.83 462.13,418.77 465.2,415.2 C468.27,411.63 470.83,408.05 474.4,406Z" fill="url(#rg30)" fill-opacity="0.95" />
<path d="M351.2,412.4 C358.43,412.23 427.27,411.23 438,411 C448.73,410.77 471.5,409.72 480,409.6 C488.5,409.48 530.83,409.4 540,409.6 C549.17,409.8 583.59,411.18 590,412 C596.41,412.82 615.4,418.6 616.9,419.4 C618.4,420.2 610.24,421.18 608,421.6 C605.76,422.03 593.33,424.05 590,424.5 C586.67,424.95 571.67,426.32 568,427 C564.33,427.68 549.67,431.81 546,432.6 C542.33,433.39 527.67,436.1 524,436.5 C520.33,436.9 505.67,437.46 502,437.4 C498.33,437.34 483.5,436.17 480,435.8 C476.5,435.43 463.5,433.51 460,433 C456.5,432.49 443,430.7 438,429.7 C433,428.7 407.23,422.39 400,421 C392.77,419.61 355.27,413.72 351.2,413 C347.13,412.28 343.97,412.57 351.2,412.4Z" fill="url(#pg31)" fill-opacity="1"/>
<path d="M351.2,412.4 C358.43,412.23 427.27,411.23 438,411 C448.73,410.77 471.5,409.72 480,409.6 C488.5,409.48 530.83,409.4 540,409.6 C549.17,409.8 583.59,411.18 590,412 C596.41,412.82 615.4,418.6 616.9,419.4 C618.4,420.2 610.24,421.18 608,421.6 C605.76,422.03 593.33,424.05 590,424.5 C586.67,424.95 571.67,426.32 568,427 C564.33,427.68 549.67,431.81 546,432.6 C542.33,433.39 527.67,436.1 524,436.5 C520.33,436.9 505.67,437.46 502,437.4 C498.33,437.34 483.5,436.17 480,435.8 C476.5,435.43 463.5,433.51 460,433 C456.5,432.49 443,430.7 438,429.7 C433,428.7 407.23,422.39 400,421 C392.77,419.61 355.27,413.72 351.2,413 C347.13,412.28 343.97,412.57 351.2,412.4Z" fill="url(#pg32)" />
<path d="M351.2,412.4 C358.43,412.23 427.27,411.23 438,411 C448.73,410.77 471.5,409.72 480,409.6 C488.5,409.48 530.83,409.4 540,409.6 C549.17,409.8 583.59,411.18 590,412 C596.41,412.82 615.4,418.6 616.9,419.4 C618.4,420.2 610.24,421.18 608,421.6 C605.76,422.03 593.33,424.05 590,424.5 C586.67,424.95 571.67,426.32 568,427 C564.33,427.68 549.67,431.81 546,432.6 C542.33,433.39 527.67,436.1 524,436.5 C520.33,436.9 505.67,437.46 502,437.4 C498.33,437.34 483.5,436.17 480,435.8 C476.5,435.43 463.5,433.51 460,433 C456.5,432.49 443,430.7 438,429.7 C433,428.7 407.23,422.39 400,421 C392.77,419.61 355.27,413.72 351.2,413 C347.13,412.28 343.97,412.57 351.2,412.4Z" fill="#ffffff" fill-opacity="0.12" mask="url(#mDR)"/>
<path d="M351.2,412.4 C358.43,412.28 427.27,411.23 438,411 C448.73,410.77 471.5,409.72 480,409.6 C488.5,409.48 530.83,409.4 540,409.6 C549.17,409.8 583.59,411.18 590,412 C596.41,412.82 614.66,418.78 616.9,419.4" fill="none" stroke="#2030d8" stroke-width="1.2" stroke-opacity="0.8" stroke-dasharray="1.5 1.2"/>
<path d="M351.2,451.8 C358.43,451.61 427.27,450.35 438,450.2 C448.73,450.05 471.5,450.02 480,450 C488.5,449.98 530.83,449.79 540,450 C549.17,450.21 583.77,451.98 590,452.5 C596.23,453.02 613.45,455.68 614.7,456.2 C615.95,456.72 607.06,458.44 605,458.8 C602.94,459.16 593.08,460.13 590,460.5 C586.92,460.87 571.67,462.52 568,463.2 C564.33,463.88 549.67,467.78 546,468.7 C542.33,469.62 527.67,473.57 524,474.2 C520.33,474.83 505.67,476.22 502,476.3 C498.33,476.38 483.5,475.47 480,475.2 C476.5,474.93 463.5,473.73 460,473 C456.5,472.27 443,467.58 438,466.5 C433,465.42 407.23,461.17 400,460 C392.77,458.83 355.27,453.18 351.2,452.5 C347.13,451.82 343.97,451.99 351.2,451.8Z" fill="url(#pg33)" fill-opacity="1"/>
<path d="M351.2,451.8 C358.43,451.61 427.27,450.35 438,450.2 C448.73,450.05 471.5,450.02 480,450 C488.5,449.98 530.83,449.79 540,450 C549.17,450.21 583.77,451.98 590,452.5 C596.23,453.02 613.45,455.68 614.7,456.2 C615.95,456.72 607.06,458.44 605,458.8 C602.94,459.16 593.08,460.13 590,460.5 C586.92,460.87 571.67,462.52 568,463.2 C564.33,463.88 549.67,467.78 546,468.7 C542.33,469.62 527.67,473.57 524,474.2 C520.33,474.83 505.67,476.22 502,476.3 C498.33,476.38 483.5,475.47 480,475.2 C476.5,474.93 463.5,473.73 460,473 C456.5,472.27 443,467.58 438,466.5 C433,465.42 407.23,461.17 400,460 C392.77,458.83 355.27,453.18 351.2,452.5 C347.13,451.82 343.97,451.99 351.2,451.8Z" fill="url(#pg34)" />
<path d="M351.2,451.8 C358.43,451.61 427.27,450.35 438,450.2 C448.73,450.05 471.5,450.02 480,450 C488.5,449.98 530.83,449.79 540,450 C549.17,450.21 583.77,451.98 590,452.5 C596.23,453.02 613.45,455.68 614.7,456.2 C615.95,456.72 607.06,458.44 605,458.8 C602.94,459.16 593.08,460.13 590,460.5 C586.92,460.87 571.67,462.52 568,463.2 C564.33,463.88 549.67,467.78 546,468.7 C542.33,469.62 527.67,473.57 524,474.2 C520.33,474.83 505.67,476.22 502,476.3 C498.33,476.38 483.5,475.47 480,475.2 C476.5,474.93 463.5,473.73 460,473 C456.5,472.27 443,467.58 438,466.5 C433,465.42 407.23,461.17 400,460 C392.77,458.83 355.27,453.18 351.2,452.5 C347.13,451.82 343.97,451.99 351.2,451.8Z" fill="#ffffff" fill-opacity="0.12" mask="url(#mDR)"/>
<path d="M351.2,451.8 C358.43,451.67 427.27,450.35 438,450.2 C448.73,450.05 471.5,450.02 480,450 C488.5,449.98 530.83,449.79 540,450 C549.17,450.21 583.77,451.98 590,452.5 C596.23,453.02 612.64,455.89 614.7,456.2" fill="none" stroke="#2030d8" stroke-width="1.2" stroke-opacity="0.8" stroke-dasharray="1.5 1.2"/>
<path d="M352.3,491 C359.44,490.85 425.69,490.12 438,490 C450.31,489.88 489.83,489.5 500,489.5 C510.17,489.5 552.08,489.79 560,490 C567.92,490.21 590.53,491.64 595,492 C599.47,492.36 613.18,494.01 613.6,494.3 C614.02,494.59 602.8,495.27 600,495.5 C597.2,495.73 583.33,496.81 580,497.1 C576.67,497.39 565,498.27 560,499 C555,499.73 526.67,505.51 520,505.9 C513.33,506.29 486.83,504 480,503.7 C473.17,503.4 444.67,502.86 438,502.3 C431.33,501.74 407.14,497.88 400,497 C392.86,496.12 356.28,492.3 352.3,491.8 C348.32,491.3 345.16,491.15 352.3,491Z" fill="url(#pg35)" fill-opacity="1"/>
<path d="M352.3,491 C359.44,490.85 425.69,490.12 438,490 C450.31,489.88 489.83,489.5 500,489.5 C510.17,489.5 552.08,489.79 560,490 C567.92,490.21 590.53,491.64 595,492 C599.47,492.36 613.18,494.01 613.6,494.3 C614.02,494.59 602.8,495.27 600,495.5 C597.2,495.73 583.33,496.81 580,497.1 C576.67,497.39 565,498.27 560,499 C555,499.73 526.67,505.51 520,505.9 C513.33,506.29 486.83,504 480,503.7 C473.17,503.4 444.67,502.86 438,502.3 C431.33,501.74 407.14,497.88 400,497 C392.86,496.12 356.28,492.3 352.3,491.8 C348.32,491.3 345.16,491.15 352.3,491Z" fill="url(#pg36)" />
<path d="M352.3,491 C359.44,490.85 425.69,490.12 438,490 C450.31,489.88 489.83,489.5 500,489.5 C510.17,489.5 552.08,489.79 560,490 C567.92,490.21 590.53,491.64 595,492 C599.47,492.36 613.18,494.01 613.6,494.3 C614.02,494.59 602.8,495.27 600,495.5 C597.2,495.73 583.33,496.81 580,497.1 C576.67,497.39 565,498.27 560,499 C555,499.73 526.67,505.51 520,505.9 C513.33,506.29 486.83,504 480,503.7 C473.17,503.4 444.67,502.86 438,502.3 C431.33,501.74 407.14,497.88 400,497 C392.86,496.12 356.28,492.3 352.3,491.8 C348.32,491.3 345.16,491.15 352.3,491Z" fill="#ffffff" fill-opacity="0.12" mask="url(#mDR)"/>
<path d="M352.3,491 C359.44,490.92 425.69,490.12 438,490 C450.31,489.88 489.83,489.5 500,489.5 C510.17,489.5 552.08,489.79 560,490 C567.92,490.21 590.53,491.64 595,492 C599.47,492.36 612.05,494.11 613.6,494.3" fill="none" stroke="#2030d8" stroke-width="1.2" stroke-opacity="0.8" stroke-dasharray="1.5 1.2"/>
<path d="M466.7,383 C468.23,381.2 469,380.92 471.3,379.9 C473.6,378.88 477.43,377.15 480.5,376.9 C483.57,376.65 486.88,377.13 489.7,378.4 C492.52,379.67 495.35,381.95 497.4,384.5 C499.45,387.05 500.22,390.63 502,393.7 C503.78,396.77 506.57,399.83 508.1,402.9 C509.63,405.97 510.68,408.02 511.2,412.1 C511.72,416.18 511.72,421.78 511.2,427.4 C510.68,433.02 509.63,440.17 508.1,445.8 C506.57,451.43 504.55,456.6 502,461.2 C499.45,465.8 496.9,470.33 492.8,473.4 C488.7,476.47 482.52,478.32 477.4,479.6 C472.28,480.88 467.2,481.37 462.1,481.1 C457,480.83 450.88,480.3 446.8,478 C442.72,475.7 440.67,471.13 437.6,467.3 C434.53,463.47 431.47,458.07 428.4,455 C425.33,451.93 420.98,450.93 419.2,448.9 C417.42,446.87 416.68,444.85 417.7,442.8 C418.72,440.75 421.47,438.65 425.3,436.6 C429.13,434.55 436.6,433.05 440.7,430.5 C444.8,427.95 447.35,425.38 449.9,421.3 C452.45,417.22 453.97,411.1 456,406 C458.03,400.9 460.32,394.53 462.1,390.7 C463.88,386.87 465.17,384.8 466.7,383Z" fill="url(#rg29)" fill-opacity="0.45" />
<path d="M474.4,406 C477.97,403.95 482.52,402.65 486.6,402.9 C490.68,403.15 495.83,404.43 498.9,407.5 C501.97,410.57 503.98,415.93 505,421.3 C506.02,426.67 506.02,433.57 505,439.7 C503.98,445.83 501.97,452.98 498.9,458.1 C495.83,463.22 491.2,467.85 486.6,470.4 C482,472.95 476.92,473.4 471.3,473.4 C465.68,473.4 458,472.43 452.9,470.4 C447.8,468.37 443.25,464.78 440.7,461.2 C438.15,457.62 437.1,453 437.6,448.9 C438.1,444.8 440.63,440.18 443.7,436.6 C446.77,433.02 452.42,430.97 456,427.4 C459.58,423.83 462.13,418.77 465.2,415.2 C468.27,411.63 470.83,408.05 474.4,406Z" fill="url(#rg30)" fill-opacity="0.45" />
<polyline points="340.2,545.8 340.6,363.5 545.8,359.5 646.8,367.6 646.7,549.7 437.3,552.5 340.2,545.8" fill="none" stroke="#111" stroke-width="1.8" stroke-linejoin="round"/>
<polyline points="340.6,363.5 437.3,371.7 437.3,552.5" fill="none" stroke="#111" stroke-width="1.6"/>
<polyline points="437.3,371.7 646.8,367.6" fill="none" stroke="#111" stroke-width="1.2"/>
<line x1="444" y1="552.41" x2="444" y2="548.91" stroke="#111" stroke-width="1.1" />
<line x1="480.6" y1="551.92" x2="480.6" y2="548.42" stroke="#111" stroke-width="1.1" />
<line x1="516.4" y1="551.44" x2="516.4" y2="547.94" stroke="#111" stroke-width="1.1" />
<line x1="552.2" y1="550.96" x2="552.2" y2="547.46" stroke="#111" stroke-width="1.1" />
<line x1="588" y1="550.48" x2="588" y2="546.98" stroke="#111" stroke-width="1.1" />
<line x1="623.7" y1="550.01" x2="623.7" y2="546.51" stroke="#111" stroke-width="1.1" />
<line x1="345.06" y1="546.13" x2="345.06" y2="542.63" stroke="#111" stroke-width="1.1" />
<line x1="378.07" y1="548.41" x2="378.07" y2="544.91" stroke="#111" stroke-width="1.1" />
<line x1="411.08" y1="550.69" x2="411.08" y2="547.19" stroke="#111" stroke-width="1.1" />
<line x1="643.2" y1="375.8" x2="646.7" y2="375.8" stroke="#111" stroke-width="1.1" />
<line x1="643.2" y1="415.8" x2="646.7" y2="415.8" stroke="#111" stroke-width="1.1" />
<line x1="643.2" y1="455.2" x2="646.7" y2="455.2" stroke="#111" stroke-width="1.1" />
<line x1="643.2" y1="494.5" x2="646.7" y2="494.5" stroke="#111" stroke-width="1.1" />
<line x1="643.2" y1="534.4" x2="646.7" y2="534.4" stroke="#111" stroke-width="1.1" />
<text x="593.6" y="355.3" font-size="10.5" text-anchor="start" font-weight="bold" fill="#111" textLength="24" lengthAdjust="spacingAndGlyphs" >0 ms</text>
<text x="649.6" y="378.8" font-size="8.4" text-anchor="start" font-weight="normal" fill="#222" textLength="10.6" lengthAdjust="spacingAndGlyphs" stroke="#222" stroke-width="0.12">250</text>
<text x="649.6" y="418.8" font-size="8.4" text-anchor="start" font-weight="normal" fill="#222" textLength="10.6" lengthAdjust="spacingAndGlyphs" stroke="#222" stroke-width="0.12">200</text>
<text x="649.6" y="458.2" font-size="8.4" text-anchor="start" font-weight="normal" fill="#222" textLength="10.6" lengthAdjust="spacingAndGlyphs" stroke="#222" stroke-width="0.12">150</text>
<text x="649.6" y="497.5" font-size="8.4" text-anchor="start" font-weight="normal" fill="#222" textLength="10.6" lengthAdjust="spacingAndGlyphs" stroke="#222" stroke-width="0.12">100</text>
<text x="649.6" y="537.4" font-size="8.4" text-anchor="start" font-weight="normal" fill="#222" textLength="7.2" lengthAdjust="spacingAndGlyphs" stroke="#222" stroke-width="0.12">50</text>
<text x="0" y="0" font-size="10" font-weight="bold" fill="#111" text-anchor="middle" transform="translate(672.7,456.2) rotate(-90)">y+</text>
<text x="444" y="561.2" font-size="7.6" text-anchor="middle" font-weight="normal" fill="#222" stroke="#222" stroke-width="0.12">-250</text>
<text x="480.6" y="561" font-size="7.6" text-anchor="middle" font-weight="normal" fill="#222" stroke="#222" stroke-width="0.12">-200</text>
<text x="516.4" y="560.6" font-size="7.6" text-anchor="middle" font-weight="normal" fill="#222" stroke="#222" stroke-width="0.12">-150</text>
<text x="552.2" y="560" font-size="7.6" text-anchor="middle" font-weight="normal" fill="#222" stroke="#222" stroke-width="0.12">-100</text>
<text x="588" y="559.1" font-size="7.6" text-anchor="middle" font-weight="normal" fill="#222" stroke="#222" stroke-width="0.12">-50</text>
<text x="623.7" y="557.4" font-size="7.6" text-anchor="middle" font-weight="normal" fill="#222" stroke="#222" stroke-width="0.12">0</text>
<text x="580.3" y="571.6" font-size="11" text-anchor="middle" font-weight="bold" fill="#111" >x+</text>
<text x="575" y="606.8" font-size="11" fill="#111" textLength="81" lengthAdjust="spacingAndGlyphs">u<tspan font-size="7.5" dx="1.2" dy="3">ref</tspan><tspan dy="-3"> = u - 0.4 m/s</tspan></text>
<text x="343.9" y="554.5" font-size="7.6" text-anchor="middle" font-weight="normal" fill="#222" stroke="#222" stroke-width="0.12">0</text>
<text x="378" y="557.6" font-size="7.6" text-anchor="middle" font-weight="normal" fill="#222" stroke="#222" stroke-width="0.12">100</text>
<text x="411.3" y="560" font-size="7.6" text-anchor="middle" font-weight="normal" fill="#222" stroke="#222" stroke-width="0.12">200</text>
<text x="387.8" y="576.3" font-size="11" text-anchor="middle" font-weight="bold" fill="#111" >z+</text>
<polygon points="437.3,674.4 646.8,670.3 646.7,852.4 437.3,855.2" fill="#f8f8f8" />
<polygon points="340.6,666.2 437.3,674.4 437.3,855.2 340.2,848.5" fill="#a9a9a9" />
<polygon points="340.6,666.2 545.8,662.2 646.8,670.3 437.3,674.4" fill="#404040" />
<polygon points="371.38,665.6 545.8,662.2 583.95,671.53 408.29,671.94" fill="#5a5a5a" fill-opacity="0.6"/>
<line x1="444" y1="673.4" x2="444" y2="854.2" stroke="#888" stroke-width="0.8" />
<line x1="480.6" y1="673.4" x2="480.6" y2="854.2" stroke="#888" stroke-width="0.8" />
<line x1="516.4" y1="673.4" x2="516.4" y2="854.2" stroke="#888" stroke-width="0.8" />
<line x1="552.2" y1="673.4" x2="552.2" y2="854.2" stroke="#888" stroke-width="0.8" />
<line x1="588" y1="673.4" x2="588" y2="854.2" stroke="#888" stroke-width="0.8" />
<line x1="623.7" y1="673.4" x2="623.7" y2="854.2" stroke="#888" stroke-width="0.8" />
<line x1="437.3" y1="679.5" x2="646.8" y2="679" stroke="#888" stroke-width="0.8" />
<line x1="437.3" y1="718.9" x2="646.8" y2="718.4" stroke="#888" stroke-width="0.8" />
<line x1="437.3" y1="758.7" x2="646.8" y2="758.2" stroke="#888" stroke-width="0.8" />
<line x1="437.3" y1="798" x2="646.8" y2="797.5" stroke="#888" stroke-width="0.8" />
<line x1="437.3" y1="838" x2="646.8" y2="837.5" stroke="#888" stroke-width="0.8" />
<line x1="357.3" y1="825" x2="576.8" y2="823" stroke="#999" stroke-width="0.6" />
<line x1="437.3" y1="834" x2="626.8" y2="833.5" stroke="#aaa" stroke-width="0.6" />
<line x1="345.44" y1="666.61" x2="345.44" y2="848.84" stroke="#555" stroke-width="0.7" />
<line x1="378.31" y1="669.4" x2="378.31" y2="851.11" stroke="#555" stroke-width="0.7" />
<line x1="411.19" y1="672.19" x2="411.19" y2="853.39" stroke="#555" stroke-width="0.7" />
<line x1="340.6" y1="674.5" x2="437.3" y2="681.5" stroke="#666" stroke-width="0.6" />
<line x1="340.6" y1="713.9" x2="437.3" y2="720.9" stroke="#666" stroke-width="0.6" />
<line x1="340.6" y1="753.7" x2="437.3" y2="760.7" stroke="#666" stroke-width="0.6" />
<line x1="340.6" y1="793" x2="437.3" y2="800" stroke="#666" stroke-width="0.6" />
<line x1="340.6" y1="833" x2="437.3" y2="840" stroke="#666" stroke-width="0.6" />
<path d="M476.7,743.8 C479.1,740.37 484.02,740.87 488.4,739.4 C492.78,737.93 496.67,735.97 503,735 C509.33,734.03 523,732.13 526.4,733.6 C529.8,735.07 525.3,739.73 523.4,743.8 C521.5,747.87 518.07,753.92 515,758 C511.93,762.08 507.5,765.8 505,768.3 C502.5,770.8 501.8,771.48 500,773 C498.2,774.52 497.1,776.53 494.2,777.4 C491.3,778.27 485.52,778.68 482.6,778.2 C479.68,777.72 478.13,777.53 476.7,774.5 C475.27,771.47 474,765.12 474,760 C474,754.88 474.3,747.23 476.7,743.8Z" fill="url(#rg37)" fill-opacity="1" />
<path d="M450.4,743.8 C452.35,742 456.03,739.53 459.2,738.8 C462.37,738.07 466.97,738.08 469.4,739.4 C471.83,740.72 473.55,743.05 473.8,746.7 C474.05,750.35 472.37,756.67 470.9,761.3 C469.43,765.93 467.43,771.48 465,774.5 C462.57,777.52 459.47,778.78 456.3,779.4 C453.13,780.02 448.33,779.27 446,778.2 C443.67,777.13 442.53,776.3 442.3,773 C442.07,769.7 443.73,762.3 444.6,758.4 C445.47,754.5 446.53,752.03 447.5,749.6 C448.47,747.17 448.45,745.6 450.4,743.8Z" fill="url(#rg38)" fill-opacity="0.95" />
<path d="M346.4,713.3 C353.37,713.16 417.2,712.61 430,712.5 C442.8,712.39 489.17,711.96 500,712 C510.83,712.04 551.67,712.71 560,713 C568.33,713.29 595.26,715.12 600,715.5 C604.74,715.88 616.9,717.25 616.9,717.5 C616.9,717.75 603.49,718.26 600,718.5 C596.51,718.74 579.5,719.75 575,720.4 C570.5,721.05 550.83,725.44 546,726.3 C541.17,727.16 521.83,730.22 517,730.7 C512.17,731.18 492.75,732.08 488,732.1 C483.25,732.12 464.83,731.24 460,731 C455.17,730.76 435,729.78 430,729.2 C425,728.62 406.97,725.25 400,724 C393.03,722.75 350.87,715.09 346.4,714.2 C341.93,713.31 339.43,713.44 346.4,713.3Z" fill="url(#pg39)" fill-opacity="1"/>
<path d="M346.4,713.3 C353.37,713.16 417.2,712.61 430,712.5 C442.8,712.39 489.17,711.96 500,712 C510.83,712.04 551.67,712.71 560,713 C568.33,713.29 595.26,715.12 600,715.5 C604.74,715.88 616.9,717.25 616.9,717.5 C616.9,717.75 603.49,718.26 600,718.5 C596.51,718.74 579.5,719.75 575,720.4 C570.5,721.05 550.83,725.44 546,726.3 C541.17,727.16 521.83,730.22 517,730.7 C512.17,731.18 492.75,732.08 488,732.1 C483.25,732.12 464.83,731.24 460,731 C455.17,730.76 435,729.78 430,729.2 C425,728.62 406.97,725.25 400,724 C393.03,722.75 350.87,715.09 346.4,714.2 C341.93,713.31 339.43,713.44 346.4,713.3Z" fill="url(#pg40)" />
<path d="M346.4,713.3 C353.37,713.16 417.2,712.61 430,712.5 C442.8,712.39 489.17,711.96 500,712 C510.83,712.04 551.67,712.71 560,713 C568.33,713.29 595.26,715.12 600,715.5 C604.74,715.88 616.9,717.25 616.9,717.5 C616.9,717.75 603.49,718.26 600,718.5 C596.51,718.74 579.5,719.75 575,720.4 C570.5,721.05 550.83,725.44 546,726.3 C541.17,727.16 521.83,730.22 517,730.7 C512.17,731.18 492.75,732.08 488,732.1 C483.25,732.12 464.83,731.24 460,731 C455.17,730.76 435,729.78 430,729.2 C425,728.62 406.97,725.25 400,724 C393.03,722.75 350.87,715.09 346.4,714.2 C341.93,713.31 339.43,713.44 346.4,713.3Z" fill="url(#pg41)" />
<path d="M346.4,713.3 C353.37,713.16 417.2,712.61 430,712.5 C442.8,712.39 489.17,711.96 500,712 C510.83,712.04 551.67,712.71 560,713 C568.33,713.29 595.26,715.12 600,715.5 C604.74,715.88 616.9,717.25 616.9,717.5 C616.9,717.75 603.49,718.26 600,718.5 C596.51,718.74 579.5,719.75 575,720.4 C570.5,721.05 550.83,725.44 546,726.3 C541.17,727.16 521.83,730.22 517,730.7 C512.17,731.18 492.75,732.08 488,732.1 C483.25,732.12 464.83,731.24 460,731 C455.17,730.76 435,729.78 430,729.2 C425,728.62 406.97,725.25 400,724 C393.03,722.75 350.87,715.09 346.4,714.2 C341.93,713.31 339.43,713.44 346.4,713.3Z" fill="#ffffff" fill-opacity="0.12" mask="url(#mDR)"/>
<path d="M346.4,713.3 C353.37,713.23 417.2,712.61 430,712.5 C442.8,712.39 489.17,711.96 500,712 C510.83,712.04 551.67,712.71 560,713 C568.33,713.29 595.26,715.12 600,715.5 C604.74,715.88 615.49,717.33 616.9,717.5" fill="none" stroke="#2030d8" stroke-width="1.2" stroke-opacity="0.8" stroke-dasharray="1.5 1.2"/>
<path d="M346.4,753.5 C353.37,753.37 417.2,752.71 430,752.6 C442.8,752.49 489.17,752.17 500,752.2 C510.83,752.23 551.67,752.73 560,753 C568.33,753.27 595.5,755.17 600,755.5 C604.5,755.83 614,756.75 614,757 C614,757.25 603.25,758.14 600,758.5 C596.75,758.86 579.5,760.46 575,761.3 C570.5,762.14 550.83,767.62 546,768.6 C541.17,769.58 521.83,772.76 517,773 C512.17,773.24 492.75,771.83 488,771.5 C483.25,771.17 464.83,769.36 460,769 C455.17,768.64 435,767.78 430,767.2 C425,766.62 406.97,763.08 400,762 C393.03,760.92 350.87,754.91 346.4,754.2 C341.93,753.49 339.43,753.63 346.4,753.5Z" fill="url(#pg42)" fill-opacity="1"/>
<path d="M346.4,753.5 C353.37,753.37 417.2,752.71 430,752.6 C442.8,752.49 489.17,752.17 500,752.2 C510.83,752.23 551.67,752.73 560,753 C568.33,753.27 595.5,755.17 600,755.5 C604.5,755.83 614,756.75 614,757 C614,757.25 603.25,758.14 600,758.5 C596.75,758.86 579.5,760.46 575,761.3 C570.5,762.14 550.83,767.62 546,768.6 C541.17,769.58 521.83,772.76 517,773 C512.17,773.24 492.75,771.83 488,771.5 C483.25,771.17 464.83,769.36 460,769 C455.17,768.64 435,767.78 430,767.2 C425,766.62 406.97,763.08 400,762 C393.03,760.92 350.87,754.91 346.4,754.2 C341.93,753.49 339.43,753.63 346.4,753.5Z" fill="url(#pg43)" />
<path d="M346.4,753.5 C353.37,753.37 417.2,752.71 430,752.6 C442.8,752.49 489.17,752.17 500,752.2 C510.83,752.23 551.67,752.73 560,753 C568.33,753.27 595.5,755.17 600,755.5 C604.5,755.83 614,756.75 614,757 C614,757.25 603.25,758.14 600,758.5 C596.75,758.86 579.5,760.46 575,761.3 C570.5,762.14 550.83,767.62 546,768.6 C541.17,769.58 521.83,772.76 517,773 C512.17,773.24 492.75,771.83 488,771.5 C483.25,771.17 464.83,769.36 460,769 C455.17,768.64 435,767.78 430,767.2 C425,766.62 406.97,763.08 400,762 C393.03,760.92 350.87,754.91 346.4,754.2 C341.93,753.49 339.43,753.63 346.4,753.5Z" fill="url(#pg44)" />
<path d="M346.4,753.5 C353.37,753.37 417.2,752.71 430,752.6 C442.8,752.49 489.17,752.17 500,752.2 C510.83,752.23 551.67,752.73 560,753 C568.33,753.27 595.5,755.17 600,755.5 C604.5,755.83 614,756.75 614,757 C614,757.25 603.25,758.14 600,758.5 C596.75,758.86 579.5,760.46 575,761.3 C570.5,762.14 550.83,767.62 546,768.6 C541.17,769.58 521.83,772.76 517,773 C512.17,773.24 492.75,771.83 488,771.5 C483.25,771.17 464.83,769.36 460,769 C455.17,768.64 435,767.78 430,767.2 C425,766.62 406.97,763.08 400,762 C393.03,760.92 350.87,754.91 346.4,754.2 C341.93,753.49 339.43,753.63 346.4,753.5Z" fill="#ffffff" fill-opacity="0.12" mask="url(#mDR)"/>
<path d="M346.4,753.5 C353.37,753.42 417.2,752.71 430,752.6 C442.8,752.49 489.17,752.17 500,752.2 C510.83,752.23 551.67,752.73 560,753 C568.33,753.27 595.5,755.17 600,755.5 C604.5,755.83 612.83,756.88 614,757" fill="none" stroke="#2030d8" stroke-width="1.2" stroke-opacity="0.8" stroke-dasharray="1.5 1.2"/>
<path d="M346.4,791.6 C353.37,791.48 417.2,791.07 430,791 C442.8,790.93 489.17,790.76 500,790.8 C510.83,790.84 551.67,791.19 560,791.5 C568.33,791.81 595.75,794.09 600,794.5 C604.25,794.91 611.83,796.15 611,796.4 C610.17,796.65 594.25,797.14 590,797.5 C585.75,797.86 566.08,800.02 560,800.7 C553.92,801.38 524.5,805.28 517,805.7 C509.5,806.12 477.25,805.88 470,805.7 C462.75,805.53 435.83,804.08 430,803.6 C424.17,803.12 406.97,800.93 400,800 C393.03,799.07 350.87,793.1 346.4,792.4 C341.93,791.7 339.43,791.72 346.4,791.6Z" fill="url(#pg45)" fill-opacity="1"/>
<path d="M346.4,791.6 C353.37,791.48 417.2,791.07 430,791 C442.8,790.93 489.17,790.76 500,790.8 C510.83,790.84 551.67,791.19 560,791.5 C568.33,791.81 595.75,794.09 600,794.5 C604.25,794.91 611.83,796.15 611,796.4 C610.17,796.65 594.25,797.14 590,797.5 C585.75,797.86 566.08,800.02 560,800.7 C553.92,801.38 524.5,805.28 517,805.7 C509.5,806.12 477.25,805.88 470,805.7 C462.75,805.53 435.83,804.08 430,803.6 C424.17,803.12 406.97,800.93 400,800 C393.03,799.07 350.87,793.1 346.4,792.4 C341.93,791.7 339.43,791.72 346.4,791.6Z" fill="url(#pg46)" />
<path d="M346.4,791.6 C353.37,791.48 417.2,791.07 430,791 C442.8,790.93 489.17,790.76 500,790.8 C510.83,790.84 551.67,791.19 560,791.5 C568.33,791.81 595.75,794.09 600,794.5 C604.25,794.91 611.83,796.15 611,796.4 C610.17,796.65 594.25,797.14 590,797.5 C585.75,797.86 566.08,800.02 560,800.7 C553.92,801.38 524.5,805.28 517,805.7 C509.5,806.12 477.25,805.88 470,805.7 C462.75,805.53 435.83,804.08 430,803.6 C424.17,803.12 406.97,800.93 400,800 C393.03,799.07 350.87,793.1 346.4,792.4 C341.93,791.7 339.43,791.72 346.4,791.6Z" fill="url(#pg47)" />
<path d="M346.4,791.6 C353.37,791.48 417.2,791.07 430,791 C442.8,790.93 489.17,790.76 500,790.8 C510.83,790.84 551.67,791.19 560,791.5 C568.33,791.81 595.75,794.09 600,794.5 C604.25,794.91 611.83,796.15 611,796.4 C610.17,796.65 594.25,797.14 590,797.5 C585.75,797.86 566.08,800.02 560,800.7 C553.92,801.38 524.5,805.28 517,805.7 C509.5,806.12 477.25,805.88 470,805.7 C462.75,805.53 435.83,804.08 430,803.6 C424.17,803.12 406.97,800.93 400,800 C393.03,799.07 350.87,793.1 346.4,792.4 C341.93,791.7 339.43,791.72 346.4,791.6Z" fill="#ffffff" fill-opacity="0.12" mask="url(#mDR)"/>
<path d="M346.4,791.6 C353.37,791.55 417.2,791.07 430,791 C442.8,790.93 489.17,790.76 500,790.8 C510.83,790.84 551.67,791.19 560,791.5 C568.33,791.81 595.75,794.09 600,794.5 C604.25,794.91 610.08,796.24 611,796.4" fill="none" stroke="#2030d8" stroke-width="1.2" stroke-opacity="0.8" stroke-dasharray="1.5 1.2"/>
<path d="M450.4,743.8 C452.35,742 456.03,739.53 459.2,738.8 C462.37,738.07 466.97,738.08 469.4,739.4 C471.83,740.72 473.55,743.05 473.8,746.7 C474.05,750.35 472.37,756.67 470.9,761.3 C469.43,765.93 467.43,771.48 465,774.5 C462.57,777.52 459.47,778.78 456.3,779.4 C453.13,780.02 448.33,779.27 446,778.2 C443.67,777.13 442.53,776.3 442.3,773 C442.07,769.7 443.73,762.3 444.6,758.4 C445.47,754.5 446.53,752.03 447.5,749.6 C448.47,747.17 448.45,745.6 450.4,743.8Z" fill="url(#rg38)" fill-opacity="0.78" />
<polyline points="340.2,848.5 340.6,666.2 545.8,662.2 646.8,670.3 646.7,852.4 437.3,855.2 340.2,848.5" fill="none" stroke="#111" stroke-width="1.8" stroke-linejoin="round"/>
<polyline points="340.6,666.2 437.3,674.4 437.3,855.2" fill="none" stroke="#111" stroke-width="1.6"/>
<polyline points="437.3,674.4 646.8,670.3" fill="none" stroke="#111" stroke-width="1.2"/>
<line x1="444" y1="855.11" x2="444" y2="851.61" stroke="#111" stroke-width="1.1" />
<line x1="480.6" y1="854.62" x2="480.6" y2="851.12" stroke="#111" stroke-width="1.1" />
<line x1="516.4" y1="854.14" x2="516.4" y2="850.64" stroke="#111" stroke-width="1.1" />
<line x1="552.2" y1="853.66" x2="552.2" y2="850.16" stroke="#111" stroke-width="1.1" />
<line x1="588" y1="853.18" x2="588" y2="849.68" stroke="#111" stroke-width="1.1" />
<line x1="623.7" y1="852.71" x2="623.7" y2="849.21" stroke="#111" stroke-width="1.1" />
<line x1="345.06" y1="848.84" x2="345.06" y2="845.34" stroke="#111" stroke-width="1.1" />
<line x1="378.07" y1="851.11" x2="378.07" y2="847.61" stroke="#111" stroke-width="1.1" />
<line x1="411.08" y1="853.39" x2="411.08" y2="849.89" stroke="#111" stroke-width="1.1" />
<line x1="643.2" y1="678.5" x2="646.7" y2="678.5" stroke="#111" stroke-width="1.1" />
<line x1="643.2" y1="717.9" x2="646.7" y2="717.9" stroke="#111" stroke-width="1.1" />
<line x1="643.2" y1="757.7" x2="646.7" y2="757.7" stroke="#111" stroke-width="1.1" />
<line x1="643.2" y1="797" x2="646.7" y2="797" stroke="#111" stroke-width="1.1" />
<line x1="643.2" y1="837" x2="646.7" y2="837" stroke="#111" stroke-width="1.1" />
<text x="593" y="656.6" font-size="10.5" text-anchor="start" font-weight="bold" fill="#111" textLength="41" lengthAdjust="spacingAndGlyphs" >+ 60 ms</text>
<text x="649.6" y="681.5" font-size="8.4" text-anchor="start" font-weight="normal" fill="#222" textLength="10.6" lengthAdjust="spacingAndGlyphs" stroke="#222" stroke-width="0.12">250</text>
<text x="649.6" y="720.9" font-size="8.4" text-anchor="start" font-weight="normal" fill="#222" textLength="10.6" lengthAdjust="spacingAndGlyphs" stroke="#222" stroke-width="0.12">200</text>
<text x="649.6" y="760.7" font-size="8.4" text-anchor="start" font-weight="normal" fill="#222" textLength="10.6" lengthAdjust="spacingAndGlyphs" stroke="#222" stroke-width="0.12">150</text>
<text x="649.6" y="800" font-size="8.4" text-anchor="start" font-weight="normal" fill="#222" textLength="10.6" lengthAdjust="spacingAndGlyphs" stroke="#222" stroke-width="0.12">100</text>
<text x="649.6" y="840" font-size="8.4" text-anchor="start" font-weight="normal" fill="#222" textLength="7.2" lengthAdjust="spacingAndGlyphs" stroke="#222" stroke-width="0.12">50</text>
<text x="0" y="0" font-size="10" font-weight="bold" fill="#111" text-anchor="middle" transform="translate(672.7,760.3) rotate(-90)">y+</text>
<text x="444" y="863.9" font-size="7.6" text-anchor="middle" font-weight="normal" fill="#222" stroke="#222" stroke-width="0.12">-250</text>
<text x="480.6" y="863.7" font-size="7.6" text-anchor="middle" font-weight="normal" fill="#222" stroke="#222" stroke-width="0.12">-200</text>
<text x="516.4" y="863.3" font-size="7.6" text-anchor="middle" font-weight="normal" fill="#222" stroke="#222" stroke-width="0.12">-150</text>
<text x="552.2" y="862.7" font-size="7.6" text-anchor="middle" font-weight="normal" fill="#222" stroke="#222" stroke-width="0.12">-100</text>
<text x="588" y="861.8" font-size="7.6" text-anchor="middle" font-weight="normal" fill="#222" stroke="#222" stroke-width="0.12">-50</text>
<text x="623.7" y="860.1" font-size="7.6" text-anchor="middle" font-weight="normal" fill="#222" stroke="#222" stroke-width="0.12">0</text>
<text x="580.3" y="873" font-size="11" text-anchor="middle" font-weight="bold" fill="#111" >x+</text>
<text x="575" y="896.5" font-size="11" fill="#111" textLength="81" lengthAdjust="spacingAndGlyphs">u<tspan font-size="7.5" dx="1.2" dy="3">ref</tspan><tspan dy="-3"> = u - 0.4 m/s</tspan></text>
<text x="343.9" y="857.2" font-size="7.6" text-anchor="middle" font-weight="normal" fill="#222" stroke="#222" stroke-width="0.12">0</text>
<text x="378" y="860.3" font-size="7.6" text-anchor="middle" font-weight="normal" fill="#222" stroke="#222" stroke-width="0.12">100</text>
<text x="411.3" y="862.7" font-size="7.6" text-anchor="middle" font-weight="normal" fill="#222" stroke="#222" stroke-width="0.12">200</text>
<text x="387.8" y="879" font-size="11" text-anchor="middle" font-weight="bold" fill="#111" >z+</text>
</svg></body></html>
